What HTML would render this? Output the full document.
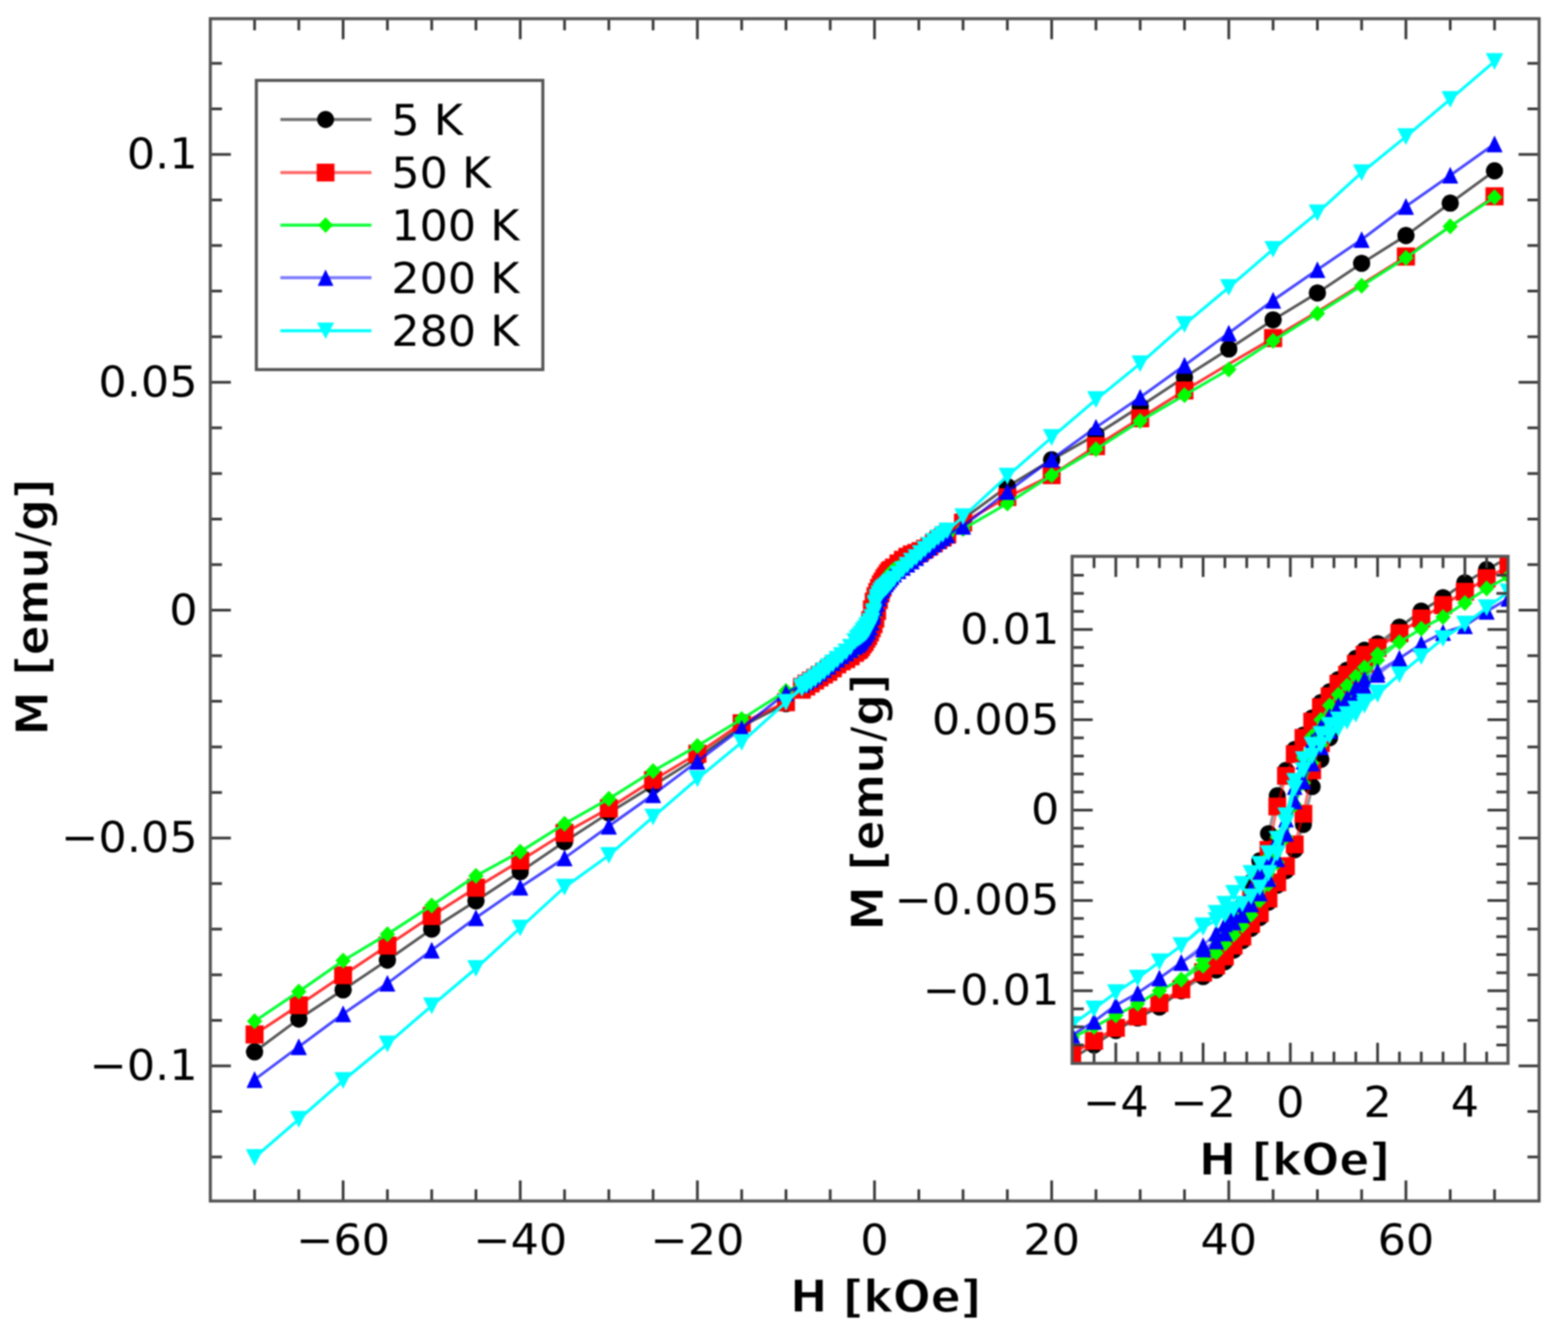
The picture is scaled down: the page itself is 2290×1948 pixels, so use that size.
<!DOCTYPE html>
<html><head><meta charset="utf-8"><title>M-H loops</title>
<style>html,body{margin:0;padding:0;background:#fff;}svg{display:block;filter:blur(0.8px);}</style>
</head><body>
<svg xmlns="http://www.w3.org/2000/svg" width="2290" height="1948" viewBox="0 0 2290 1948" font-family="'DejaVu Sans', 'Liberation Sans', sans-serif" font-size="65" fill="#000">
<defs><circle id="mo" r="12.4"/><rect id="ms" x="-13" y="-13" width="26" height="26"/><path id="mD" d="M0,-11.5 L11,0 L0,11.5 L-11,0 Z"/><path id="m^" d="M0,-12 L11.5,12 L-11.5,12 Z"/><path id="mv" d="M0,12 L12.5,-12 L-12.5,-12 Z"/>
<clipPath id="cm"><rect x="307.2" y="27.3" width="1940.6" height="1726.5"/></clipPath>
<clipPath id="ci"><rect x="1565.8" y="812.4" width="636.6" height="740.4"/></clipPath>
</defs>
<rect width="2290" height="1948" fill="#fff"/>
<g clip-path="url(#cm)">
<polyline points="2182.7,249.5 2118,296.7 2053.3,344 1988.6,384.6 1924,427.8 1859.3,467.1 1794.6,509.7 1729.9,550.9 1665.2,593.5 1600.6,634.8 1535.9,671.4 1471.2,710.6 1406.5,757.9 1383.3,779.2 1376.8,783.6 1370.3,787.5 1363.9,791.8 1357.4,796.1 1350.9,800.3 1344.5,804.3 1338,807.9 1331.5,811.1 1325.1,814.7 1318.6,818.8 1312.1,823.2 1305.7,827.9 1301.8,830.4 1299.2,832.1 1296.6,835.1 1294,839.4 1291.4,842.9 1288.8,847.4 1286.3,851.4 1283.7,857.1 1281.1,863.3 1278.5,868.6 1275.9,876.4 1273.3,885.7 1270.7,899.7 1268.1,909.6 1265.6,917.6 1263,926.3 1260.4,933.6 1257.8,939.6 1255.2,944.2 1252.6,949 1248.7,953.9 1242.3,959.6 1235.8,963.6 1229.3,966.4 1222.9,969.7 1216.4,974.2 1209.9,978.5 1203.5,982.4 1197,986.5 1190.5,990.9 1184.1,995.2 1177.6,999.4 1171.1,1004.1 1147.9,1027.4 1083.2,1060.7 1018.5,1106.6 953.8,1147.2 889.2,1187.1 824.5,1229.1 759.8,1273 695.1,1315.6 630.5,1356.8 565.8,1402.1 501.1,1445.4 436.4,1488 371.8,1535.9" fill="none" stroke="#000000" stroke-opacity="0.42" stroke-width="4.0" stroke-linejoin="round"/>
<g fill="#000000"><use href="#mo" x="2182.7" y="249.5"/><use href="#mo" x="2118" y="296.7"/><use href="#mo" x="2053.3" y="344"/><use href="#mo" x="1988.6" y="384.6"/><use href="#mo" x="1924" y="427.8"/><use href="#mo" x="1859.3" y="467.1"/><use href="#mo" x="1794.6" y="509.7"/><use href="#mo" x="1729.9" y="550.9"/><use href="#mo" x="1665.2" y="593.5"/><use href="#mo" x="1600.6" y="634.8"/><use href="#mo" x="1535.9" y="671.4"/><use href="#mo" x="1471.2" y="710.6"/><use href="#mo" x="1406.5" y="757.9"/><use href="#mo" x="1383.3" y="779.2"/><use href="#mo" x="1376.8" y="783.6"/><use href="#mo" x="1370.3" y="787.5"/><use href="#mo" x="1363.9" y="791.8"/><use href="#mo" x="1357.4" y="796.1"/><use href="#mo" x="1350.9" y="800.3"/><use href="#mo" x="1344.5" y="804.3"/><use href="#mo" x="1338" y="807.9"/><use href="#mo" x="1331.5" y="811.1"/><use href="#mo" x="1325.1" y="814.7"/><use href="#mo" x="1318.6" y="818.8"/><use href="#mo" x="1312.1" y="823.2"/><use href="#mo" x="1305.7" y="827.9"/><use href="#mo" x="1301.8" y="830.4"/><use href="#mo" x="1299.2" y="832.1"/><use href="#mo" x="1296.6" y="835.1"/><use href="#mo" x="1294" y="839.4"/><use href="#mo" x="1291.4" y="842.9"/><use href="#mo" x="1288.8" y="847.4"/><use href="#mo" x="1286.3" y="851.4"/><use href="#mo" x="1283.7" y="857.1"/><use href="#mo" x="1281.1" y="863.3"/><use href="#mo" x="1278.5" y="868.6"/><use href="#mo" x="1275.9" y="876.4"/><use href="#mo" x="1273.3" y="885.7"/><use href="#mo" x="1270.7" y="899.7"/><use href="#mo" x="1268.1" y="909.6"/><use href="#mo" x="1265.6" y="917.6"/><use href="#mo" x="1263" y="926.3"/><use href="#mo" x="1260.4" y="933.6"/><use href="#mo" x="1257.8" y="939.6"/><use href="#mo" x="1255.2" y="944.2"/><use href="#mo" x="1252.6" y="949"/><use href="#mo" x="1248.7" y="953.9"/><use href="#mo" x="1242.3" y="959.6"/><use href="#mo" x="1235.8" y="963.6"/><use href="#mo" x="1229.3" y="966.4"/><use href="#mo" x="1222.9" y="969.7"/><use href="#mo" x="1216.4" y="974.2"/><use href="#mo" x="1209.9" y="978.5"/><use href="#mo" x="1203.5" y="982.4"/><use href="#mo" x="1197" y="986.5"/><use href="#mo" x="1190.5" y="990.9"/><use href="#mo" x="1184.1" y="995.2"/><use href="#mo" x="1177.6" y="999.4"/><use href="#mo" x="1171.1" y="1004.1"/><use href="#mo" x="1147.9" y="1027.4"/><use href="#mo" x="1083.2" y="1060.7"/><use href="#mo" x="1018.5" y="1106.6"/><use href="#mo" x="953.8" y="1147.2"/><use href="#mo" x="889.2" y="1187.1"/><use href="#mo" x="824.5" y="1229.1"/><use href="#mo" x="759.8" y="1273"/><use href="#mo" x="695.1" y="1315.6"/><use href="#mo" x="630.5" y="1356.8"/><use href="#mo" x="565.8" y="1402.1"/><use href="#mo" x="501.1" y="1445.4"/><use href="#mo" x="436.4" y="1488"/><use href="#mo" x="371.8" y="1535.9"/></g>
<polyline points="371.8,1535.9 436.4,1488 501.1,1445.4 565.8,1402.1 630.5,1356.8 695.1,1315.6 759.8,1273 824.5,1229.1 889.2,1187.1 953.8,1147.2 1018.5,1106.6 1083.2,1060.7 1147.9,1027.4 1171.1,1004.1 1177.6,999.4 1184.1,995.2 1190.5,990.9 1197,986.5 1203.5,982.4 1209.9,978.5 1216.4,974.2 1222.9,969.7 1229.3,966.3 1235.8,963.6 1242.3,959.5 1248.7,954.3 1252.6,951.6 1255.2,949.9 1257.8,946.9 1260.4,942.6 1263,939.1 1265.6,934.6 1268.1,930.6 1270.7,924.9 1273.3,918.7 1275.9,913.4 1278.5,905.6 1281.1,896.3 1283.7,882.3 1286.3,872.4 1288.8,864.4 1291.4,855.7 1294,848.4 1296.6,842.4 1299.2,837.8 1301.8,833 1305.7,828.3 1312.1,823.1 1318.6,818.7 1325.1,814.7 1331.5,811.1 1338,807.9 1344.5,804.3 1350.9,800.3 1357.4,796.1 1363.9,791.8 1370.3,787.5 1376.8,783.6 1383.3,779.2 1406.5,757.9 1471.2,710.6 1535.9,671.4 1600.6,634.8 1665.2,593.5 1729.9,550.9 1794.6,509.7 1859.3,467.1 1924,427.8 1988.6,384.6 2053.3,344 2118,296.7 2182.7,249.5" fill="none" stroke="#000000" stroke-opacity="0.42" stroke-width="4.0" stroke-linejoin="round"/>
<g fill="#000000"><use href="#mo" x="371.8" y="1535.9"/><use href="#mo" x="436.4" y="1488"/><use href="#mo" x="501.1" y="1445.4"/><use href="#mo" x="565.8" y="1402.1"/><use href="#mo" x="630.5" y="1356.8"/><use href="#mo" x="695.1" y="1315.6"/><use href="#mo" x="759.8" y="1273"/><use href="#mo" x="824.5" y="1229.1"/><use href="#mo" x="889.2" y="1187.1"/><use href="#mo" x="953.8" y="1147.2"/><use href="#mo" x="1018.5" y="1106.6"/><use href="#mo" x="1083.2" y="1060.7"/><use href="#mo" x="1147.9" y="1027.4"/><use href="#mo" x="1171.1" y="1004.1"/><use href="#mo" x="1177.6" y="999.4"/><use href="#mo" x="1184.1" y="995.2"/><use href="#mo" x="1190.5" y="990.9"/><use href="#mo" x="1197" y="986.5"/><use href="#mo" x="1203.5" y="982.4"/><use href="#mo" x="1209.9" y="978.5"/><use href="#mo" x="1216.4" y="974.2"/><use href="#mo" x="1222.9" y="969.7"/><use href="#mo" x="1229.3" y="966.3"/><use href="#mo" x="1235.8" y="963.6"/><use href="#mo" x="1242.3" y="959.5"/><use href="#mo" x="1248.7" y="954.3"/><use href="#mo" x="1252.6" y="951.6"/><use href="#mo" x="1255.2" y="949.9"/><use href="#mo" x="1257.8" y="946.9"/><use href="#mo" x="1260.4" y="942.6"/><use href="#mo" x="1263" y="939.1"/><use href="#mo" x="1265.6" y="934.6"/><use href="#mo" x="1268.1" y="930.6"/><use href="#mo" x="1270.7" y="924.9"/><use href="#mo" x="1273.3" y="918.7"/><use href="#mo" x="1275.9" y="913.4"/><use href="#mo" x="1278.5" y="905.6"/><use href="#mo" x="1281.1" y="896.3"/><use href="#mo" x="1283.7" y="882.3"/><use href="#mo" x="1286.3" y="872.4"/><use href="#mo" x="1288.8" y="864.4"/><use href="#mo" x="1291.4" y="855.7"/><use href="#mo" x="1294" y="848.4"/><use href="#mo" x="1296.6" y="842.4"/><use href="#mo" x="1299.2" y="837.8"/><use href="#mo" x="1301.8" y="833"/><use href="#mo" x="1305.7" y="828.3"/><use href="#mo" x="1312.1" y="823.1"/><use href="#mo" x="1318.6" y="818.7"/><use href="#mo" x="1325.1" y="814.7"/><use href="#mo" x="1331.5" y="811.1"/><use href="#mo" x="1338" y="807.9"/><use href="#mo" x="1344.5" y="804.3"/><use href="#mo" x="1350.9" y="800.3"/><use href="#mo" x="1357.4" y="796.1"/><use href="#mo" x="1363.9" y="791.8"/><use href="#mo" x="1370.3" y="787.5"/><use href="#mo" x="1376.8" y="783.6"/><use href="#mo" x="1383.3" y="779.2"/><use href="#mo" x="1406.5" y="757.9"/><use href="#mo" x="1471.2" y="710.6"/><use href="#mo" x="1535.9" y="671.4"/><use href="#mo" x="1600.6" y="634.8"/><use href="#mo" x="1665.2" y="593.5"/><use href="#mo" x="1729.9" y="550.9"/><use href="#mo" x="1794.6" y="509.7"/><use href="#mo" x="1859.3" y="467.1"/><use href="#mo" x="1924" y="427.8"/><use href="#mo" x="1988.6" y="384.6"/><use href="#mo" x="2053.3" y="344"/><use href="#mo" x="2118" y="296.7"/><use href="#mo" x="2182.7" y="249.5"/></g>
<polyline points="2182.7,286.7 2118,330.6 2053.3,374.6 1988.6,415.2 1924,455.1 1859.3,493.7 1794.6,531.6 1729.9,570.2 1665.2,610.8 1600.6,651.4 1535.9,694 1471.2,726 1406.5,763.2 1383.3,780.5 1376.8,784.8 1370.3,788.8 1363.9,793.1 1357.4,797.5 1350.9,801.3 1344.5,804.6 1338,807.3 1331.5,809.5 1325.1,812.9 1318.6,817.3 1312.1,822.7 1305.7,828.9 1301.8,832.1 1299.2,833.8 1296.6,837.1 1294,841.1 1291.4,844.4 1288.8,849.1 1286.3,853.1 1283.7,858.4 1281.1,864.4 1278.5,870.4 1275.9,878.4 1273.3,889.7 1270.7,905.6 1268.1,915.6 1265.6,923.6 1263,930.3 1260.4,936.3 1257.8,940.9 1255.2,944.9 1252.6,949.2 1248.7,953.5 1242.3,958.5 1235.8,962.2 1229.3,965 1222.9,968.4 1216.4,972.9 1209.9,977.1 1203.5,981.1 1197,985.2 1190.5,989.5 1184.1,993.9 1177.6,998.1 1171.1,1002.8 1147.9,1025.4 1083.2,1056 1018.5,1100.6 953.8,1139.2 889.2,1180.5 824.5,1216.4 759.8,1257 695.1,1296.3 630.5,1337.6 565.8,1380.8 501.1,1424.1 436.4,1468 371.8,1510.6" fill="none" stroke="#ff0000" stroke-opacity="0.55" stroke-width="4.0" stroke-linejoin="round"/>
<g fill="#ff0000"><use href="#ms" x="2182.7" y="286.7"/><use href="#ms" x="2053.3" y="374.6"/><use href="#ms" x="1859.3" y="493.7"/><use href="#ms" x="1729.9" y="570.2"/><use href="#ms" x="1665.2" y="610.8"/><use href="#ms" x="1600.6" y="651.4"/><use href="#ms" x="1535.9" y="694"/><use href="#ms" x="1471.2" y="726"/><use href="#ms" x="1406.5" y="763.2"/><use href="#ms" x="1383.3" y="780.5"/><use href="#ms" x="1376.8" y="784.8"/><use href="#ms" x="1370.3" y="788.8"/><use href="#ms" x="1363.9" y="793.1"/><use href="#ms" x="1357.4" y="797.5"/><use href="#ms" x="1350.9" y="801.3"/><use href="#ms" x="1344.5" y="804.6"/><use href="#ms" x="1338" y="807.3"/><use href="#ms" x="1331.5" y="809.5"/><use href="#ms" x="1325.1" y="812.9"/><use href="#ms" x="1318.6" y="817.3"/><use href="#ms" x="1312.1" y="822.7"/><use href="#ms" x="1305.7" y="828.9"/><use href="#ms" x="1301.8" y="832.1"/><use href="#ms" x="1299.2" y="833.8"/><use href="#ms" x="1296.6" y="837.1"/><use href="#ms" x="1294" y="841.1"/><use href="#ms" x="1291.4" y="844.4"/><use href="#ms" x="1288.8" y="849.1"/><use href="#ms" x="1286.3" y="853.1"/><use href="#ms" x="1283.7" y="858.4"/><use href="#ms" x="1281.1" y="864.4"/><use href="#ms" x="1278.5" y="870.4"/><use href="#ms" x="1275.9" y="878.4"/><use href="#ms" x="1273.3" y="889.7"/><use href="#ms" x="1270.7" y="905.6"/><use href="#ms" x="1268.1" y="915.6"/><use href="#ms" x="1265.6" y="923.6"/><use href="#ms" x="1263" y="930.3"/><use href="#ms" x="1260.4" y="936.3"/><use href="#ms" x="1257.8" y="940.9"/><use href="#ms" x="1255.2" y="944.9"/><use href="#ms" x="1252.6" y="949.2"/><use href="#ms" x="1248.7" y="953.5"/><use href="#ms" x="1242.3" y="958.5"/><use href="#ms" x="1235.8" y="962.2"/><use href="#ms" x="1229.3" y="965"/><use href="#ms" x="1222.9" y="968.4"/><use href="#ms" x="1216.4" y="972.9"/><use href="#ms" x="1209.9" y="977.1"/><use href="#ms" x="1203.5" y="981.1"/><use href="#ms" x="1197" y="985.2"/><use href="#ms" x="1190.5" y="989.5"/><use href="#ms" x="1184.1" y="993.9"/><use href="#ms" x="1177.6" y="998.1"/><use href="#ms" x="1171.1" y="1002.8"/><use href="#ms" x="1147.9" y="1025.4"/><use href="#ms" x="1083.2" y="1056"/><use href="#ms" x="1018.5" y="1100.6"/><use href="#ms" x="953.8" y="1139.2"/><use href="#ms" x="889.2" y="1180.5"/><use href="#ms" x="824.5" y="1216.4"/><use href="#ms" x="759.8" y="1257"/><use href="#ms" x="695.1" y="1296.3"/><use href="#ms" x="630.5" y="1337.6"/><use href="#ms" x="565.8" y="1380.8"/><use href="#ms" x="501.1" y="1424.1"/><use href="#ms" x="436.4" y="1468"/><use href="#ms" x="371.8" y="1510.6"/></g>
<polyline points="371.8,1510.6 436.4,1468 501.1,1424.1 565.8,1380.8 630.5,1337.6 695.1,1296.3 759.8,1257 824.5,1216.4 889.2,1180.5 953.8,1139.2 1018.5,1100.6 1083.2,1056 1147.9,1025.4 1171.1,1007.3 1177.6,1002.6 1184.1,998.2 1190.5,993.8 1197,989.4 1203.5,985.2 1209.9,981.2 1216.4,976.1 1222.9,970.3 1229.3,965.9 1235.8,962.5 1242.3,958.1 1248.7,952.7 1252.6,949.9 1255.2,948.2 1257.8,944.9 1260.4,940.9 1263,937.6 1265.6,932.9 1268.1,928.9 1270.7,923.6 1273.3,917.6 1275.9,911.6 1278.5,903.6 1281.1,892.3 1283.7,876.4 1286.3,866.4 1288.8,858.4 1291.4,851.7 1294,845.7 1296.6,841.1 1299.2,837.1 1301.8,832.8 1305.7,828.7 1312.1,824.2 1318.6,820.1 1325.1,816.1 1331.5,812.4 1338,809.2 1344.5,805.7 1350.9,801.6 1357.4,797.5 1363.9,793.1 1370.3,788.8 1376.8,784.8 1383.3,780.5 1406.5,763.2 1471.2,726 1535.9,694 1600.6,651.4 1665.2,610.8 1729.9,570.2 1794.6,531.6 1859.3,493.7 1924,455.1 1988.6,415.2 2053.3,374.6 2118,330.6 2182.7,286.7" fill="none" stroke="#ff0000" stroke-opacity="0.55" stroke-width="4.0" stroke-linejoin="round"/>
<g fill="#ff0000"><use href="#ms" x="371.8" y="1510.6"/><use href="#ms" x="436.4" y="1468"/><use href="#ms" x="501.1" y="1424.1"/><use href="#ms" x="565.8" y="1380.8"/><use href="#ms" x="630.5" y="1337.6"/><use href="#ms" x="695.1" y="1296.3"/><use href="#ms" x="759.8" y="1257"/><use href="#ms" x="824.5" y="1216.4"/><use href="#ms" x="889.2" y="1180.5"/><use href="#ms" x="953.8" y="1139.2"/><use href="#ms" x="1018.5" y="1100.6"/><use href="#ms" x="1083.2" y="1056"/><use href="#ms" x="1147.9" y="1025.4"/><use href="#ms" x="1171.1" y="1007.3"/><use href="#ms" x="1177.6" y="1002.6"/><use href="#ms" x="1184.1" y="998.2"/><use href="#ms" x="1190.5" y="993.8"/><use href="#ms" x="1197" y="989.4"/><use href="#ms" x="1203.5" y="985.2"/><use href="#ms" x="1209.9" y="981.2"/><use href="#ms" x="1216.4" y="976.1"/><use href="#ms" x="1222.9" y="970.3"/><use href="#ms" x="1229.3" y="965.9"/><use href="#ms" x="1235.8" y="962.5"/><use href="#ms" x="1242.3" y="958.1"/><use href="#ms" x="1248.7" y="952.7"/><use href="#ms" x="1252.6" y="949.9"/><use href="#ms" x="1255.2" y="948.2"/><use href="#ms" x="1257.8" y="944.9"/><use href="#ms" x="1260.4" y="940.9"/><use href="#ms" x="1263" y="937.6"/><use href="#ms" x="1265.6" y="932.9"/><use href="#ms" x="1268.1" y="928.9"/><use href="#ms" x="1270.7" y="923.6"/><use href="#ms" x="1273.3" y="917.6"/><use href="#ms" x="1275.9" y="911.6"/><use href="#ms" x="1278.5" y="903.6"/><use href="#ms" x="1281.1" y="892.3"/><use href="#ms" x="1283.7" y="876.4"/><use href="#ms" x="1286.3" y="866.4"/><use href="#ms" x="1288.8" y="858.4"/><use href="#ms" x="1291.4" y="851.7"/><use href="#ms" x="1294" y="845.7"/><use href="#ms" x="1296.6" y="841.1"/><use href="#ms" x="1299.2" y="837.1"/><use href="#ms" x="1301.8" y="832.8"/><use href="#ms" x="1305.7" y="828.7"/><use href="#ms" x="1312.1" y="824.2"/><use href="#ms" x="1318.6" y="820.1"/><use href="#ms" x="1325.1" y="816.1"/><use href="#ms" x="1331.5" y="812.4"/><use href="#ms" x="1338" y="809.2"/><use href="#ms" x="1344.5" y="805.7"/><use href="#ms" x="1350.9" y="801.6"/><use href="#ms" x="1357.4" y="797.5"/><use href="#ms" x="1363.9" y="793.1"/><use href="#ms" x="1370.3" y="788.8"/><use href="#ms" x="1376.8" y="784.8"/><use href="#ms" x="1383.3" y="780.5"/><use href="#ms" x="1406.5" y="763.2"/><use href="#ms" x="1471.2" y="726"/><use href="#ms" x="1535.9" y="694"/><use href="#ms" x="1600.6" y="651.4"/><use href="#ms" x="1665.2" y="610.8"/><use href="#ms" x="1729.9" y="570.2"/><use href="#ms" x="1859.3" y="493.7"/><use href="#ms" x="2053.3" y="374.6"/><use href="#ms" x="2182.7" y="286.7"/></g>
<polyline points="2182.7,288.1 2118,330.6 2053.3,376.6 1988.6,417.2 1924,457.8 1859.3,497.7 1794.6,539.6 1729.9,576.9 1665.2,614.8 1600.6,656.1 1535.9,694 1471.2,735.3 1406.5,772.5 1383.3,781.2 1376.8,785.4 1370.3,790.5 1363.9,795.5 1357.4,800.6 1350.9,805.2 1344.5,809.5 1338,813.6 1331.5,817.6 1325.1,821.4 1318.6,825 1312.1,828.4 1305.7,831.8 1301.8,835 1299.2,838.4 1296.6,841.8 1294,845.1 1291.4,848.4 1288.8,852.4 1286.3,857.7 1283.7,863.7 1281.1,871.7 1278.5,881 1275.9,893 1273.3,901 1270.7,908.3 1268.1,915 1265.6,921.6 1263,926.9 1260.4,930.9 1257.8,934.9 1255.2,938.9 1252.6,944.2 1248.7,948.8 1242.3,953.3 1235.8,957.1 1229.3,960.7 1222.9,964.4 1216.4,968.4 1209.9,972.5 1203.5,976.8 1197,981.4 1190.5,986.5 1184.1,991.4 1177.6,996.2 1171.1,1000.1 1147.9,1009.1 1083.2,1050.1 1018.5,1089.3 953.8,1125.9 889.2,1166.5 824.5,1203.1 759.8,1243.7 695.1,1279 630.5,1322.2 565.8,1364.2 501.1,1402.8 436.4,1448 371.8,1491.3" fill="none" stroke="#00ff30" stroke-opacity="0.85" stroke-width="4.0" stroke-linejoin="round"/>
<g fill="#00ff00"><use href="#mD" x="2182.7" y="288.1"/><use href="#mD" x="2118" y="330.6"/><use href="#mD" x="2053.3" y="376.6"/><use href="#mD" x="1988.6" y="417.2"/><use href="#mD" x="1924" y="457.8"/><use href="#mD" x="1859.3" y="497.7"/><use href="#mD" x="1794.6" y="539.6"/><use href="#mD" x="1729.9" y="576.9"/><use href="#mD" x="1665.2" y="614.8"/><use href="#mD" x="1600.6" y="656.1"/><use href="#mD" x="1535.9" y="694"/><use href="#mD" x="1471.2" y="735.3"/><use href="#mD" x="1406.5" y="772.5"/><use href="#mD" x="1383.3" y="781.2"/><use href="#mD" x="1376.8" y="785.4"/><use href="#mD" x="1370.3" y="790.5"/><use href="#mD" x="1363.9" y="795.5"/><use href="#mD" x="1357.4" y="800.6"/><use href="#mD" x="1350.9" y="805.2"/><use href="#mD" x="1344.5" y="809.5"/><use href="#mD" x="1338" y="813.6"/><use href="#mD" x="1331.5" y="817.6"/><use href="#mD" x="1325.1" y="821.4"/><use href="#mD" x="1318.6" y="825"/><use href="#mD" x="1312.1" y="828.4"/><use href="#mD" x="1305.7" y="831.8"/><use href="#mD" x="1301.8" y="835"/><use href="#mD" x="1299.2" y="838.4"/><use href="#mD" x="1296.6" y="841.8"/><use href="#mD" x="1294" y="845.1"/><use href="#mD" x="1291.4" y="848.4"/><use href="#mD" x="1288.8" y="852.4"/><use href="#mD" x="1286.3" y="857.7"/><use href="#mD" x="1283.7" y="863.7"/><use href="#mD" x="1281.1" y="871.7"/><use href="#mD" x="1278.5" y="881"/><use href="#mD" x="1275.9" y="893"/><use href="#mD" x="1273.3" y="901"/><use href="#mD" x="1270.7" y="908.3"/><use href="#mD" x="1268.1" y="915"/><use href="#mD" x="1265.6" y="921.6"/><use href="#mD" x="1263" y="926.9"/><use href="#mD" x="1260.4" y="930.9"/><use href="#mD" x="1257.8" y="934.9"/><use href="#mD" x="1255.2" y="938.9"/><use href="#mD" x="1252.6" y="944.2"/><use href="#mD" x="1248.7" y="948.8"/><use href="#mD" x="1242.3" y="953.3"/><use href="#mD" x="1235.8" y="957.1"/><use href="#mD" x="1229.3" y="960.7"/><use href="#mD" x="1222.9" y="964.4"/><use href="#mD" x="1216.4" y="968.4"/><use href="#mD" x="1209.9" y="972.5"/><use href="#mD" x="1203.5" y="976.8"/><use href="#mD" x="1197" y="981.4"/><use href="#mD" x="1190.5" y="986.5"/><use href="#mD" x="1184.1" y="991.4"/><use href="#mD" x="1177.6" y="996.2"/><use href="#mD" x="1171.1" y="1000.1"/><use href="#mD" x="1147.9" y="1009.1"/><use href="#mD" x="1083.2" y="1050.1"/><use href="#mD" x="1018.5" y="1089.3"/><use href="#mD" x="953.8" y="1125.9"/><use href="#mD" x="889.2" y="1166.5"/><use href="#mD" x="824.5" y="1203.1"/><use href="#mD" x="759.8" y="1243.7"/><use href="#mD" x="695.1" y="1279"/><use href="#mD" x="630.5" y="1322.2"/><use href="#mD" x="565.8" y="1364.2"/><use href="#mD" x="501.1" y="1402.8"/><use href="#mD" x="436.4" y="1448"/><use href="#mD" x="371.8" y="1491.3"/></g>
<polyline points="371.8,1491.3 436.4,1448 501.1,1402.8 565.8,1364.2 630.5,1322.2 695.1,1279 759.8,1243.7 824.5,1203.1 889.2,1166.5 953.8,1125.9 1018.5,1089.3 1083.2,1050.1 1147.9,1009.1 1171.1,1000.1 1177.6,996.2 1184.1,991.4 1190.5,986.5 1197,981.4 1203.5,976.8 1209.9,972.5 1216.4,968.4 1222.9,964.4 1229.3,960.6 1235.8,957 1242.3,953.6 1248.7,950.2 1252.6,947 1255.2,943.6 1257.8,940.2 1260.4,936.9 1263,933.6 1265.6,929.6 1268.1,924.3 1270.7,918.3 1273.3,910.3 1275.9,901 1278.5,889 1281.1,881 1283.7,873.7 1286.3,867 1288.8,860.4 1291.4,855.1 1294,851.1 1296.6,847.1 1299.2,843.1 1301.8,837.8 1305.7,833.2 1312.1,828.7 1318.6,824.9 1325.1,821.3 1331.5,817.6 1338,813.6 1344.5,809.5 1350.9,805.2 1357.4,800.6 1363.9,795.5 1370.3,790.5 1376.8,785.4 1383.3,781.2 1406.5,772.5 1471.2,735.3 1535.9,694 1600.6,656.1 1665.2,614.8 1729.9,576.9 1794.6,539.6 1859.3,497.7 1924,457.8 1988.6,417.2 2053.3,376.6 2118,330.6 2182.7,288.1" fill="none" stroke="#00ff30" stroke-opacity="0.85" stroke-width="4.0" stroke-linejoin="round"/>
<g fill="#00ff00"><use href="#mD" x="371.8" y="1491.3"/><use href="#mD" x="436.4" y="1448"/><use href="#mD" x="501.1" y="1402.8"/><use href="#mD" x="565.8" y="1364.2"/><use href="#mD" x="630.5" y="1322.2"/><use href="#mD" x="695.1" y="1279"/><use href="#mD" x="759.8" y="1243.7"/><use href="#mD" x="824.5" y="1203.1"/><use href="#mD" x="889.2" y="1166.5"/><use href="#mD" x="953.8" y="1125.9"/><use href="#mD" x="1018.5" y="1089.3"/><use href="#mD" x="1083.2" y="1050.1"/><use href="#mD" x="1147.9" y="1009.1"/><use href="#mD" x="1171.1" y="1000.1"/><use href="#mD" x="1177.6" y="996.2"/><use href="#mD" x="1184.1" y="991.4"/><use href="#mD" x="1190.5" y="986.5"/><use href="#mD" x="1197" y="981.4"/><use href="#mD" x="1203.5" y="976.8"/><use href="#mD" x="1209.9" y="972.5"/><use href="#mD" x="1216.4" y="968.4"/><use href="#mD" x="1222.9" y="964.4"/><use href="#mD" x="1229.3" y="960.6"/><use href="#mD" x="1235.8" y="957"/><use href="#mD" x="1242.3" y="953.6"/><use href="#mD" x="1248.7" y="950.2"/><use href="#mD" x="1252.6" y="947"/><use href="#mD" x="1255.2" y="943.6"/><use href="#mD" x="1257.8" y="940.2"/><use href="#mD" x="1260.4" y="936.9"/><use href="#mD" x="1263" y="933.6"/><use href="#mD" x="1265.6" y="929.6"/><use href="#mD" x="1268.1" y="924.3"/><use href="#mD" x="1270.7" y="918.3"/><use href="#mD" x="1273.3" y="910.3"/><use href="#mD" x="1275.9" y="901"/><use href="#mD" x="1278.5" y="889"/><use href="#mD" x="1281.1" y="881"/><use href="#mD" x="1283.7" y="873.7"/><use href="#mD" x="1286.3" y="867"/><use href="#mD" x="1288.8" y="860.4"/><use href="#mD" x="1291.4" y="855.1"/><use href="#mD" x="1294" y="851.1"/><use href="#mD" x="1296.6" y="847.1"/><use href="#mD" x="1299.2" y="843.1"/><use href="#mD" x="1301.8" y="837.8"/><use href="#mD" x="1305.7" y="833.2"/><use href="#mD" x="1312.1" y="828.7"/><use href="#mD" x="1318.6" y="824.9"/><use href="#mD" x="1325.1" y="821.3"/><use href="#mD" x="1331.5" y="817.6"/><use href="#mD" x="1338" y="813.6"/><use href="#mD" x="1344.5" y="809.5"/><use href="#mD" x="1350.9" y="805.2"/><use href="#mD" x="1357.4" y="800.6"/><use href="#mD" x="1363.9" y="795.5"/><use href="#mD" x="1370.3" y="790.5"/><use href="#mD" x="1376.8" y="785.4"/><use href="#mD" x="1383.3" y="781.2"/><use href="#mD" x="1406.5" y="772.5"/><use href="#mD" x="1471.2" y="735.3"/><use href="#mD" x="1535.9" y="694"/><use href="#mD" x="1600.6" y="656.1"/><use href="#mD" x="1665.2" y="614.8"/><use href="#mD" x="1729.9" y="576.9"/><use href="#mD" x="1794.6" y="539.6"/><use href="#mD" x="1859.3" y="497.7"/><use href="#mD" x="1924" y="457.8"/><use href="#mD" x="1988.6" y="417.2"/><use href="#mD" x="2053.3" y="376.6"/><use href="#mD" x="2118" y="330.6"/><use href="#mD" x="2182.7" y="288.1"/></g>
<polyline points="2182.7,210.2 2118,256.1 2053.3,301.4 1988.6,349.9 1924,393.9 1859.3,438.5 1794.6,486.4 1729.9,533.6 1665.2,580.2 1600.6,624.1 1535.9,670.7 1471.2,718 1406.5,768.5 1383.3,781.2 1376.8,785.4 1370.3,790 1363.9,794.6 1357.4,799.2 1350.9,804.1 1344.5,809.1 1338,814.2 1331.5,819.2 1325.1,824 1318.6,828.6 1312.1,833.2 1305.7,837.8 1301.8,840.7 1299.2,842.8 1296.6,845.7 1294,849.7 1291.4,852.4 1288.8,856.4 1286.3,860.4 1283.7,865.7 1281.1,873 1278.5,882.3 1275.9,894.3 1273.3,901.6 1270.7,908.3 1268.1,914.3 1265.6,920.3 1263,925.6 1260.4,929.6 1257.8,932.9 1255.2,936.3 1252.6,939.5 1248.7,943.4 1242.3,948.6 1235.8,953.5 1229.3,958.1 1222.9,962.8 1216.4,967.8 1209.9,972.9 1203.5,977.9 1197,982.8 1190.5,987.5 1184.1,991.8 1177.6,995.7 1171.1,999.5 1147.9,1012.1 1083.2,1063.4 1018.5,1111.9 953.8,1160.5 889.2,1206.4 824.5,1253 759.8,1295.6 695.1,1340.2 630.5,1387.5 565.8,1436 501.1,1480.6 436.4,1528.5 371.8,1576.5" fill="none" stroke="#0000ff" stroke-opacity="0.48" stroke-width="4.0" stroke-linejoin="round"/>
<g fill="#0000ff"><use href="#m^" x="2182.7" y="210.2"/><use href="#m^" x="2118" y="256.1"/><use href="#m^" x="2053.3" y="301.4"/><use href="#m^" x="1988.6" y="349.9"/><use href="#m^" x="1924" y="393.9"/><use href="#m^" x="1859.3" y="438.5"/><use href="#m^" x="1794.6" y="486.4"/><use href="#m^" x="1729.9" y="533.6"/><use href="#m^" x="1665.2" y="580.2"/><use href="#m^" x="1600.6" y="624.1"/><use href="#m^" x="1535.9" y="670.7"/><use href="#m^" x="1471.2" y="718"/><use href="#m^" x="1406.5" y="768.5"/><use href="#m^" x="1383.3" y="781.2"/><use href="#m^" x="1376.8" y="785.4"/><use href="#m^" x="1370.3" y="790"/><use href="#m^" x="1363.9" y="794.6"/><use href="#m^" x="1357.4" y="799.2"/><use href="#m^" x="1350.9" y="804.1"/><use href="#m^" x="1344.5" y="809.1"/><use href="#m^" x="1338" y="814.2"/><use href="#m^" x="1331.5" y="819.2"/><use href="#m^" x="1325.1" y="824"/><use href="#m^" x="1318.6" y="828.6"/><use href="#m^" x="1312.1" y="833.2"/><use href="#m^" x="1305.7" y="837.8"/><use href="#m^" x="1301.8" y="840.7"/><use href="#m^" x="1299.2" y="842.8"/><use href="#m^" x="1296.6" y="845.7"/><use href="#m^" x="1294" y="849.7"/><use href="#m^" x="1291.4" y="852.4"/><use href="#m^" x="1288.8" y="856.4"/><use href="#m^" x="1286.3" y="860.4"/><use href="#m^" x="1283.7" y="865.7"/><use href="#m^" x="1281.1" y="873"/><use href="#m^" x="1278.5" y="882.3"/><use href="#m^" x="1275.9" y="894.3"/><use href="#m^" x="1273.3" y="901.6"/><use href="#m^" x="1270.7" y="908.3"/><use href="#m^" x="1268.1" y="914.3"/><use href="#m^" x="1265.6" y="920.3"/><use href="#m^" x="1263" y="925.6"/><use href="#m^" x="1260.4" y="929.6"/><use href="#m^" x="1257.8" y="932.9"/><use href="#m^" x="1255.2" y="936.3"/><use href="#m^" x="1252.6" y="939.5"/><use href="#m^" x="1248.7" y="943.4"/><use href="#m^" x="1242.3" y="948.6"/><use href="#m^" x="1235.8" y="953.5"/><use href="#m^" x="1229.3" y="958.1"/><use href="#m^" x="1222.9" y="962.8"/><use href="#m^" x="1216.4" y="967.8"/><use href="#m^" x="1209.9" y="972.9"/><use href="#m^" x="1203.5" y="977.9"/><use href="#m^" x="1197" y="982.8"/><use href="#m^" x="1190.5" y="987.5"/><use href="#m^" x="1184.1" y="991.8"/><use href="#m^" x="1177.6" y="995.7"/><use href="#m^" x="1171.1" y="999.5"/><use href="#m^" x="1147.9" y="1012.1"/><use href="#m^" x="1083.2" y="1063.4"/><use href="#m^" x="1018.5" y="1111.9"/><use href="#m^" x="953.8" y="1160.5"/><use href="#m^" x="889.2" y="1206.4"/><use href="#m^" x="824.5" y="1253"/><use href="#m^" x="759.8" y="1295.6"/><use href="#m^" x="695.1" y="1340.2"/><use href="#m^" x="630.5" y="1387.5"/><use href="#m^" x="565.8" y="1436"/><use href="#m^" x="501.1" y="1480.6"/><use href="#m^" x="436.4" y="1528.5"/><use href="#m^" x="371.8" y="1576.5"/></g>
<polyline points="371.8,1576.5 436.4,1528.5 501.1,1480.6 565.8,1436 630.5,1387.5 695.1,1340.2 759.8,1295.6 824.5,1253 889.2,1206.4 953.8,1160.5 1018.5,1111.9 1083.2,1063.4 1147.9,1012.1 1171.1,999.5 1177.6,995.7 1184.1,991.8 1190.5,987.5 1197,982.8 1203.5,977.9 1209.9,972.9 1216.4,967.8 1222.9,962.8 1229.3,958 1235.8,953.4 1242.3,948.8 1248.7,944.2 1252.6,941.3 1255.2,939.2 1257.8,936.3 1260.4,932.3 1263,929.6 1265.6,925.6 1268.1,921.6 1270.7,916.3 1273.3,909 1275.9,899.7 1278.5,887.7 1281.1,880.4 1283.7,873.7 1286.3,867.7 1288.8,861.7 1291.4,856.4 1294,852.4 1296.6,849.1 1299.2,845.7 1301.8,842.5 1305.7,838.6 1312.1,833.4 1318.6,828.5 1325.1,823.9 1331.5,819.2 1338,814.2 1344.5,809.1 1350.9,804.1 1357.4,799.2 1363.9,794.6 1370.3,790 1376.8,785.4 1383.3,781.2 1406.5,768.5 1471.2,718 1535.9,670.7 1600.6,624.1 1665.2,580.2 1729.9,533.6 1794.6,486.4 1859.3,438.5 1924,393.9 1988.6,349.9 2053.3,301.4 2118,256.1 2182.7,210.2" fill="none" stroke="#0000ff" stroke-opacity="0.48" stroke-width="4.0" stroke-linejoin="round"/>
<g fill="#0000ff"><use href="#m^" x="371.8" y="1576.5"/><use href="#m^" x="436.4" y="1528.5"/><use href="#m^" x="501.1" y="1480.6"/><use href="#m^" x="565.8" y="1436"/><use href="#m^" x="630.5" y="1387.5"/><use href="#m^" x="695.1" y="1340.2"/><use href="#m^" x="759.8" y="1295.6"/><use href="#m^" x="824.5" y="1253"/><use href="#m^" x="889.2" y="1206.4"/><use href="#m^" x="953.8" y="1160.5"/><use href="#m^" x="1018.5" y="1111.9"/><use href="#m^" x="1083.2" y="1063.4"/><use href="#m^" x="1147.9" y="1012.1"/><use href="#m^" x="1171.1" y="999.5"/><use href="#m^" x="1177.6" y="995.7"/><use href="#m^" x="1184.1" y="991.8"/><use href="#m^" x="1190.5" y="987.5"/><use href="#m^" x="1197" y="982.8"/><use href="#m^" x="1203.5" y="977.9"/><use href="#m^" x="1209.9" y="972.9"/><use href="#m^" x="1216.4" y="967.8"/><use href="#m^" x="1222.9" y="962.8"/><use href="#m^" x="1229.3" y="958"/><use href="#m^" x="1235.8" y="953.4"/><use href="#m^" x="1242.3" y="948.8"/><use href="#m^" x="1248.7" y="944.2"/><use href="#m^" x="1252.6" y="941.3"/><use href="#m^" x="1255.2" y="939.2"/><use href="#m^" x="1257.8" y="936.3"/><use href="#m^" x="1260.4" y="932.3"/><use href="#m^" x="1263" y="929.6"/><use href="#m^" x="1265.6" y="925.6"/><use href="#m^" x="1268.1" y="921.6"/><use href="#m^" x="1270.7" y="916.3"/><use href="#m^" x="1273.3" y="909"/><use href="#m^" x="1275.9" y="899.7"/><use href="#m^" x="1278.5" y="887.7"/><use href="#m^" x="1281.1" y="880.4"/><use href="#m^" x="1283.7" y="873.7"/><use href="#m^" x="1286.3" y="867.7"/><use href="#m^" x="1288.8" y="861.7"/><use href="#m^" x="1291.4" y="856.4"/><use href="#m^" x="1294" y="852.4"/><use href="#m^" x="1296.6" y="849.1"/><use href="#m^" x="1299.2" y="845.7"/><use href="#m^" x="1301.8" y="842.5"/><use href="#m^" x="1305.7" y="838.6"/><use href="#m^" x="1312.1" y="833.4"/><use href="#m^" x="1318.6" y="828.5"/><use href="#m^" x="1325.1" y="823.9"/><use href="#m^" x="1331.5" y="819.2"/><use href="#m^" x="1338" y="814.2"/><use href="#m^" x="1344.5" y="809.1"/><use href="#m^" x="1350.9" y="804.1"/><use href="#m^" x="1357.4" y="799.2"/><use href="#m^" x="1363.9" y="794.6"/><use href="#m^" x="1370.3" y="790"/><use href="#m^" x="1376.8" y="785.4"/><use href="#m^" x="1383.3" y="781.2"/><use href="#m^" x="1406.5" y="768.5"/><use href="#m^" x="1471.2" y="718"/><use href="#m^" x="1535.9" y="670.7"/><use href="#m^" x="1600.6" y="624.1"/><use href="#m^" x="1665.2" y="580.2"/><use href="#m^" x="1729.9" y="533.6"/><use href="#m^" x="1794.6" y="486.4"/><use href="#m^" x="1859.3" y="438.5"/><use href="#m^" x="1924" y="393.9"/><use href="#m^" x="1988.6" y="349.9"/><use href="#m^" x="2053.3" y="301.4"/><use href="#m^" x="2118" y="256.1"/><use href="#m^" x="2182.7" y="210.2"/></g>
<polyline points="2182.7,89.7 2118,145 2053.3,199.5 1988.6,252.1 1924,310.7 1859.3,363.9 1794.6,419.8 1729.9,473.7 1665.2,531 1600.6,583.5 1535.9,638.8 1471.2,695.3 1406.5,754.6 1383.3,775.2 1376.8,780.2 1370.3,785.1 1363.9,790.5 1357.4,796.2 1350.9,802.1 1344.5,808.1 1338,813.9 1331.5,819.5 1325.1,825.5 1318.6,831.8 1312.1,838.5 1305.7,845.2 1301.8,848.9 1299.2,851.1 1296.6,853.7 1294,855.7 1291.4,857.7 1288.8,859.7 1286.3,863 1283.7,867 1281.1,872.4 1278.5,880.4 1275.9,893 1273.3,901.6 1270.7,907 1268.1,911 1265.6,914.3 1263,918.3 1260.4,921.6 1257.8,925.6 1255.2,928.9 1252.6,932 1248.7,936.8 1242.3,945 1235.8,951.7 1229.3,957.1 1222.9,962.4 1216.4,967.7 1209.9,973.2 1203.5,978.9 1197,984.3 1190.5,989.3 1184.1,994 1177.6,998.3 1171.1,1002.8 1147.9,1025.4 1083.2,1084 1018.5,1137.2 953.8,1193.1 889.2,1249 824.5,1295.6 759.8,1354.9 695.1,1414.1 630.5,1468.7 565.8,1524.6 501.1,1577.8 436.4,1634.4 371.8,1690.3" fill="none" stroke="#00ffff" stroke-opacity="1.00" stroke-width="4.0" stroke-linejoin="round"/>
<g fill="#00ffff"><use href="#mv" x="2182.7" y="89.7"/><use href="#mv" x="2118" y="145"/><use href="#mv" x="2053.3" y="199.5"/><use href="#mv" x="1988.6" y="252.1"/><use href="#mv" x="1924" y="310.7"/><use href="#mv" x="1859.3" y="363.9"/><use href="#mv" x="1794.6" y="419.8"/><use href="#mv" x="1729.9" y="473.7"/><use href="#mv" x="1665.2" y="531"/><use href="#mv" x="1600.6" y="583.5"/><use href="#mv" x="1535.9" y="638.8"/><use href="#mv" x="1471.2" y="695.3"/><use href="#mv" x="1406.5" y="754.6"/><use href="#mv" x="1383.3" y="775.2"/><use href="#mv" x="1376.8" y="780.2"/><use href="#mv" x="1370.3" y="785.1"/><use href="#mv" x="1363.9" y="790.5"/><use href="#mv" x="1357.4" y="796.2"/><use href="#mv" x="1350.9" y="802.1"/><use href="#mv" x="1344.5" y="808.1"/><use href="#mv" x="1338" y="813.9"/><use href="#mv" x="1331.5" y="819.5"/><use href="#mv" x="1325.1" y="825.5"/><use href="#mv" x="1318.6" y="831.8"/><use href="#mv" x="1312.1" y="838.5"/><use href="#mv" x="1305.7" y="845.2"/><use href="#mv" x="1301.8" y="848.9"/><use href="#mv" x="1299.2" y="851.1"/><use href="#mv" x="1296.6" y="853.7"/><use href="#mv" x="1294" y="855.7"/><use href="#mv" x="1291.4" y="857.7"/><use href="#mv" x="1288.8" y="859.7"/><use href="#mv" x="1286.3" y="863"/><use href="#mv" x="1283.7" y="867"/><use href="#mv" x="1281.1" y="872.4"/><use href="#mv" x="1278.5" y="880.4"/><use href="#mv" x="1275.9" y="893"/><use href="#mv" x="1273.3" y="901.6"/><use href="#mv" x="1270.7" y="907"/><use href="#mv" x="1268.1" y="911"/><use href="#mv" x="1265.6" y="914.3"/><use href="#mv" x="1263" y="918.3"/><use href="#mv" x="1260.4" y="921.6"/><use href="#mv" x="1257.8" y="925.6"/><use href="#mv" x="1255.2" y="928.9"/><use href="#mv" x="1252.6" y="932"/><use href="#mv" x="1248.7" y="936.8"/><use href="#mv" x="1242.3" y="945"/><use href="#mv" x="1235.8" y="951.7"/><use href="#mv" x="1229.3" y="957.1"/><use href="#mv" x="1222.9" y="962.4"/><use href="#mv" x="1216.4" y="967.7"/><use href="#mv" x="1209.9" y="973.2"/><use href="#mv" x="1203.5" y="978.9"/><use href="#mv" x="1197" y="984.3"/><use href="#mv" x="1190.5" y="989.3"/><use href="#mv" x="1184.1" y="994"/><use href="#mv" x="1177.6" y="998.3"/><use href="#mv" x="1171.1" y="1002.8"/><use href="#mv" x="1147.9" y="1025.4"/><use href="#mv" x="1083.2" y="1084"/><use href="#mv" x="1018.5" y="1137.2"/><use href="#mv" x="953.8" y="1193.1"/><use href="#mv" x="889.2" y="1249"/><use href="#mv" x="824.5" y="1295.6"/><use href="#mv" x="759.8" y="1354.9"/><use href="#mv" x="695.1" y="1414.1"/><use href="#mv" x="630.5" y="1468.7"/><use href="#mv" x="565.8" y="1524.6"/><use href="#mv" x="501.1" y="1577.8"/><use href="#mv" x="436.4" y="1634.4"/><use href="#mv" x="371.8" y="1690.3"/></g>
<polyline points="371.8,1690.3 436.4,1634.4 501.1,1577.8 565.8,1524.6 630.5,1468.7 695.1,1414.1 759.8,1354.9 824.5,1295.6 889.2,1249 953.8,1193.1 1018.5,1137.2 1083.2,1084 1147.9,1025.4 1171.1,1005.5 1177.6,1000.9 1184.1,996.6 1190.5,991.9 1197,986.9 1203.5,981.6 1209.9,975.8 1216.4,970 1222.9,963.9 1229.3,958 1235.8,952.1 1242.3,945 1248.7,936.8 1252.6,933.3 1255.2,931.6 1257.8,929.6 1260.4,927.6 1263,925.6 1265.6,922.9 1268.1,919.6 1270.7,914.3 1273.3,907 1275.9,895.7 1278.5,883 1281.1,876.4 1283.7,871 1286.3,867 1288.8,863.7 1291.4,861.1 1294,858.4 1296.6,855.7 1299.2,852.4 1301.8,849.7 1305.7,845.6 1312.1,838.5 1318.6,831.8 1325.1,825.4 1331.5,819.5 1338,813.9 1344.5,808.1 1350.9,802.1 1357.4,796.2 1363.9,790.5 1370.3,785.1 1376.8,780.2 1383.3,775.2 1406.5,754.6 1471.2,695.3 1535.9,638.8 1600.6,583.5 1665.2,531 1729.9,473.7 1794.6,419.8 1859.3,363.9 1924,310.7 1988.6,252.1 2053.3,199.5 2118,145 2182.7,89.7" fill="none" stroke="#00ffff" stroke-opacity="1.00" stroke-width="4.0" stroke-linejoin="round"/>
<g fill="#00ffff"><use href="#mv" x="371.8" y="1690.3"/><use href="#mv" x="436.4" y="1634.4"/><use href="#mv" x="501.1" y="1577.8"/><use href="#mv" x="565.8" y="1524.6"/><use href="#mv" x="630.5" y="1468.7"/><use href="#mv" x="695.1" y="1414.1"/><use href="#mv" x="759.8" y="1354.9"/><use href="#mv" x="824.5" y="1295.6"/><use href="#mv" x="889.2" y="1249"/><use href="#mv" x="953.8" y="1193.1"/><use href="#mv" x="1018.5" y="1137.2"/><use href="#mv" x="1083.2" y="1084"/><use href="#mv" x="1147.9" y="1025.4"/><use href="#mv" x="1171.1" y="1005.5"/><use href="#mv" x="1177.6" y="1000.9"/><use href="#mv" x="1184.1" y="996.6"/><use href="#mv" x="1190.5" y="991.9"/><use href="#mv" x="1197" y="986.9"/><use href="#mv" x="1203.5" y="981.6"/><use href="#mv" x="1209.9" y="975.8"/><use href="#mv" x="1216.4" y="970"/><use href="#mv" x="1222.9" y="963.9"/><use href="#mv" x="1229.3" y="958"/><use href="#mv" x="1235.8" y="952.1"/><use href="#mv" x="1242.3" y="945"/><use href="#mv" x="1248.7" y="936.8"/><use href="#mv" x="1252.6" y="933.3"/><use href="#mv" x="1255.2" y="931.6"/><use href="#mv" x="1257.8" y="929.6"/><use href="#mv" x="1260.4" y="927.6"/><use href="#mv" x="1263" y="925.6"/><use href="#mv" x="1265.6" y="922.9"/><use href="#mv" x="1268.1" y="919.6"/><use href="#mv" x="1270.7" y="914.3"/><use href="#mv" x="1273.3" y="907"/><use href="#mv" x="1275.9" y="895.7"/><use href="#mv" x="1278.5" y="883"/><use href="#mv" x="1281.1" y="876.4"/><use href="#mv" x="1283.7" y="871"/><use href="#mv" x="1286.3" y="867"/><use href="#mv" x="1288.8" y="863.7"/><use href="#mv" x="1291.4" y="861.1"/><use href="#mv" x="1294" y="858.4"/><use href="#mv" x="1296.6" y="855.7"/><use href="#mv" x="1299.2" y="852.4"/><use href="#mv" x="1301.8" y="849.7"/><use href="#mv" x="1305.7" y="845.6"/><use href="#mv" x="1312.1" y="838.5"/><use href="#mv" x="1318.6" y="831.8"/><use href="#mv" x="1325.1" y="825.4"/><use href="#mv" x="1331.5" y="819.5"/><use href="#mv" x="1338" y="813.9"/><use href="#mv" x="1344.5" y="808.1"/><use href="#mv" x="1350.9" y="802.1"/><use href="#mv" x="1357.4" y="796.2"/><use href="#mv" x="1363.9" y="790.5"/><use href="#mv" x="1370.3" y="785.1"/><use href="#mv" x="1376.8" y="780.2"/><use href="#mv" x="1383.3" y="775.2"/><use href="#mv" x="1406.5" y="754.6"/><use href="#mv" x="1471.2" y="695.3"/><use href="#mv" x="1535.9" y="638.8"/><use href="#mv" x="1600.6" y="583.5"/><use href="#mv" x="1665.2" y="531"/><use href="#mv" x="1729.9" y="473.7"/><use href="#mv" x="1794.6" y="419.8"/><use href="#mv" x="1859.3" y="363.9"/><use href="#mv" x="1924" y="310.7"/><use href="#mv" x="1988.6" y="252.1"/><use href="#mv" x="2053.3" y="199.5"/><use href="#mv" x="2118" y="145"/><use href="#mv" x="2182.7" y="89.7"/></g>
</g>
<path d="M371.8,1753.8v-17M371.8,27.3v17M436.4,1753.8v-17M436.4,27.3v17M501.1,1753.8v-30M501.1,27.3v30M565.8,1753.8v-17M565.8,27.3v17M630.5,1753.8v-17M630.5,27.3v17M695.1,1753.8v-17M695.1,27.3v17M759.8,1753.8v-30M759.8,27.3v30M824.5,1753.8v-17M824.5,27.3v17M889.2,1753.8v-17M889.2,27.3v17M953.8,1753.8v-17M953.8,27.3v17M1018.5,1753.8v-30M1018.5,27.3v30M1083.2,1753.8v-17M1083.2,27.3v17M1147.9,1753.8v-17M1147.9,27.3v17M1212.5,1753.8v-17M1212.5,27.3v17M1277.2,1753.8v-30M1277.2,27.3v30M1341.9,1753.8v-17M1341.9,27.3v17M1406.5,1753.8v-17M1406.5,27.3v17M1471.2,1753.8v-17M1471.2,27.3v17M1535.9,1753.8v-30M1535.9,27.3v30M1600.6,1753.8v-17M1600.6,27.3v17M1665.2,1753.8v-17M1665.2,27.3v17M1729.9,1753.8v-17M1729.9,27.3v17M1794.6,1753.8v-30M1794.6,27.3v30M1859.3,1753.8v-17M1859.3,27.3v17M1924,1753.8v-17M1924,27.3v17M1988.6,1753.8v-17M1988.6,27.3v17M2053.3,1753.8v-30M2053.3,27.3v30M2118,1753.8v-17M2118,27.3v17M2182.7,1753.8v-17M2182.7,27.3v17M307.2,1689.6h17M2247.8,1689.6h-17M307.2,1623h17M2247.8,1623h-17M307.2,1556.5h30M2247.8,1556.5h-30M307.2,1489.9h17M2247.8,1489.9h-17M307.2,1423.4h17M2247.8,1423.4h-17M307.2,1356.8h17M2247.8,1356.8h-17M307.2,1290.3h17M2247.8,1290.3h-17M307.2,1223.8h30M2247.8,1223.8h-30M307.2,1157.2h17M2247.8,1157.2h-17M307.2,1090.7h17M2247.8,1090.7h-17M307.2,1024.1h17M2247.8,1024.1h-17M307.2,957.5h17M2247.8,957.5h-17M307.2,891h30M2247.8,891h-30M307.2,824.5h17M2247.8,824.5h-17M307.2,757.9h17M2247.8,757.9h-17M307.2,691.4h17M2247.8,691.4h-17M307.2,624.8h17M2247.8,624.8h-17M307.2,558.2h30M2247.8,558.2h-30M307.2,491.7h17M2247.8,491.7h-17M307.2,425.1h17M2247.8,425.1h-17M307.2,358.6h17M2247.8,358.6h-17M307.2,292.1h17M2247.8,292.1h-17M307.2,225.5h30M2247.8,225.5h-30M307.2,159h17M2247.8,159h-17M307.2,92.4h17M2247.8,92.4h-17" stroke="#3a3a3a" stroke-width="4" fill="none"/>
<rect x="307.2" y="27.3" width="1940.6" height="1726.5" fill="none" stroke="#555" stroke-width="4.5"/>
<rect x="374.4" y="117.4" width="418.4" height="422.3" fill="#fff" stroke="#555" stroke-width="4.5"/>
<line x1="409.5" y1="174.5" x2="542.5" y2="174.5" stroke="#000000" stroke-opacity="0.56" stroke-width="4.5"/>
<use href="#mo" x="475.5" y="174.5" fill="#000000"/>
<text text-anchor="start" transform="translate(571.4 196.5) scale(1 0.95)">5 K</text>
<line x1="409.5" y1="252" x2="542.5" y2="252" stroke="#ff0000" stroke-opacity="0.60" stroke-width="4.5"/>
<use href="#ms" x="475.5" y="252" fill="#ff0000"/>
<text text-anchor="start" transform="translate(571.4 274) scale(1 0.95)">50 K</text>
<line x1="409.5" y1="328.8" x2="542.5" y2="328.8" stroke="#00ff30" stroke-opacity="0.95" stroke-width="4.5"/>
<use href="#mD" x="475.5" y="328.8" fill="#00ff00"/>
<text text-anchor="start" transform="translate(571.4 350.8) scale(1 0.95)">100 K</text>
<line x1="409.5" y1="405.6" x2="542.5" y2="405.6" stroke="#0000ff" stroke-opacity="0.52" stroke-width="4.5"/>
<use href="#m^" x="475.5" y="405.6" fill="#0000ff"/>
<text text-anchor="start" transform="translate(571.4 427.6) scale(1 0.95)">200 K</text>
<line x1="409.5" y1="483.1" x2="542.5" y2="483.1" stroke="#00ffff" stroke-opacity="1.00" stroke-width="4.5"/>
<use href="#mv" x="475.5" y="483.1" fill="#00ffff"/>
<text text-anchor="start" transform="translate(571.4 505.1) scale(1 0.95)">280 K</text>
<rect x="1565.8" y="812.4" width="636.6" height="740.4" fill="#fff"/>
<g clip-path="url(#ci)">
<polyline points="6344.9,-1360 6026.3,-1172.7 5707.7,-985.4 5389.1,-824.5 5070.5,-653 4751.9,-497.4 4433.3,-328.6 4114.7,-165 3796.1,3.8 3477.5,167.4 3158.9,312.5 2840.3,468.1 2521.7,655.4 2458,683 2426.1,697.7 2394.3,713 2362.4,728.9 2330.5,745.2 2298.7,761.9 2266.8,779 2235,796.4 2203.1,814 2171.2,831.9 2139.4,851.1 2107.5,872.8 2075.7,892.3 2043.8,916 2011.9,939.8 1992.8,949.5 1980.1,961.4 1967.3,978.6 1954.6,992.3 1941.8,1010.2 1929.1,1026 1916.4,1048.5 1903.6,1073.3 1890.9,1094.4 1878.1,1125 1865.4,1161.9 1852.6,1217.3 1839.9,1256.9 1827.2,1288.5 1814.4,1322.8 1801.7,1351.8 1788.9,1375.6 1776.2,1394 1757.1,1420.4 1725.2,1446.8 1693.3,1470.5 1661.5,1486.4 1629.6,1504.8 1597.8,1525.9 1565.9,1545.7 1534,1565.3 1502.2,1584.6 1470.3,1603.6 1438.5,1622.2 1406.6,1640.4 1374.7,1658.2 1342.9,1675.5 1311,1692.2 1247.3,1723.8 928.7,1855.7 610.1,2037.7 291.5,2198.6 -27.1,2356.9 -345.7,2523.1 -664.3,2697.2 -982.9,2866 -1301.5,3029.6 -1620.1,3209 -1938.7,3380.5 -2257.3,3549.3 -2575.9,3739.2" fill="none" stroke="#000000" stroke-opacity="0.42" stroke-width="4.0" stroke-linejoin="round"/>
<g fill="#000000"><use href="#mo" x="6344.9" y="-1360"/><use href="#mo" x="6026.3" y="-1172.7"/><use href="#mo" x="5707.7" y="-985.4"/><use href="#mo" x="5389.1" y="-824.5"/><use href="#mo" x="5070.5" y="-653"/><use href="#mo" x="4751.9" y="-497.4"/><use href="#mo" x="4433.3" y="-328.6"/><use href="#mo" x="4114.7" y="-165"/><use href="#mo" x="3796.1" y="3.8"/><use href="#mo" x="3477.5" y="167.4"/><use href="#mo" x="3158.9" y="312.5"/><use href="#mo" x="2840.3" y="468.1"/><use href="#mo" x="2521.7" y="655.4"/><use href="#mo" x="2458" y="683"/><use href="#mo" x="2426.1" y="697.7"/><use href="#mo" x="2394.3" y="713"/><use href="#mo" x="2362.4" y="728.9"/><use href="#mo" x="2330.5" y="745.2"/><use href="#mo" x="2298.7" y="761.9"/><use href="#mo" x="2266.8" y="779"/><use href="#mo" x="2235" y="796.4"/><use href="#mo" x="2203.1" y="814"/><use href="#mo" x="2171.2" y="831.9"/><use href="#mo" x="2139.4" y="851.1"/><use href="#mo" x="2107.5" y="872.8"/><use href="#mo" x="2075.7" y="892.3"/><use href="#mo" x="2043.8" y="916"/><use href="#mo" x="2011.9" y="939.8"/><use href="#mo" x="1992.8" y="949.5"/><use href="#mo" x="1980.1" y="961.4"/><use href="#mo" x="1967.3" y="978.6"/><use href="#mo" x="1954.6" y="992.3"/><use href="#mo" x="1941.8" y="1010.2"/><use href="#mo" x="1929.1" y="1026"/><use href="#mo" x="1916.4" y="1048.5"/><use href="#mo" x="1903.6" y="1073.3"/><use href="#mo" x="1890.9" y="1094.4"/><use href="#mo" x="1878.1" y="1125"/><use href="#mo" x="1865.4" y="1161.9"/><use href="#mo" x="1852.6" y="1217.3"/><use href="#mo" x="1839.9" y="1256.9"/><use href="#mo" x="1827.2" y="1288.5"/><use href="#mo" x="1814.4" y="1322.8"/><use href="#mo" x="1801.7" y="1351.8"/><use href="#mo" x="1788.9" y="1375.6"/><use href="#mo" x="1776.2" y="1394"/><use href="#mo" x="1757.1" y="1420.4"/><use href="#mo" x="1725.2" y="1446.8"/><use href="#mo" x="1693.3" y="1470.5"/><use href="#mo" x="1661.5" y="1486.4"/><use href="#mo" x="1629.6" y="1504.8"/><use href="#mo" x="1597.8" y="1525.9"/><use href="#mo" x="1565.9" y="1545.7"/><use href="#mo" x="1534" y="1565.3"/><use href="#mo" x="1502.2" y="1584.6"/><use href="#mo" x="1470.3" y="1603.6"/><use href="#mo" x="1438.5" y="1622.2"/><use href="#mo" x="1406.6" y="1640.4"/><use href="#mo" x="1374.7" y="1658.2"/><use href="#mo" x="1342.9" y="1675.5"/><use href="#mo" x="1311" y="1692.2"/><use href="#mo" x="1247.3" y="1723.8"/><use href="#mo" x="928.7" y="1855.7"/><use href="#mo" x="610.1" y="2037.7"/><use href="#mo" x="291.5" y="2198.6"/><use href="#mo" x="-27.1" y="2356.9"/><use href="#mo" x="-345.7" y="2523.1"/><use href="#mo" x="-664.3" y="2697.2"/><use href="#mo" x="-982.9" y="2866"/><use href="#mo" x="-1301.5" y="3029.6"/><use href="#mo" x="-1620.1" y="3209"/><use href="#mo" x="-1938.7" y="3380.5"/><use href="#mo" x="-2257.3" y="3549.3"/><use href="#mo" x="-2575.9" y="3739.2"/></g>
<polyline points="-2575.9,3739.2 -2257.3,3549.3 -1938.7,3380.5 -1620.1,3209 -1301.5,3029.6 -982.9,2866 -664.3,2697.2 -345.7,2523.1 -27.1,2356.9 291.5,2198.6 610.1,2037.7 928.7,1855.7 1247.3,1723.8 1311,1692.2 1342.9,1675.5 1374.7,1658.2 1406.6,1640.4 1438.5,1622.2 1470.3,1603.6 1502.2,1584.6 1534,1565.3 1565.9,1545.7 1597.8,1525.9 1629.6,1504.8 1661.5,1486.4 1693.3,1470.5 1725.2,1446.8 1757.1,1426.2 1776.2,1416.5 1788.9,1404.6 1801.7,1387.4 1814.4,1373.7 1827.2,1355.8 1839.9,1340 1852.6,1317.5 1865.4,1292.7 1878.1,1271.6 1890.9,1241 1903.6,1204.1 1916.4,1148.7 1929.1,1109.1 1941.8,1077.5 1954.6,1043.2 1967.3,1014.2 1980.1,990.4 1992.8,972 2011.9,945.6 2043.8,916 2075.7,892.3 2107.5,872.8 2139.4,851.1 2171.2,831.9 2203.1,814 2235,796.4 2266.8,779 2298.7,761.9 2330.5,745.2 2362.4,728.9 2394.3,713 2426.1,697.7 2458,683 2521.7,655.4 2840.3,468.1 3158.9,312.5 3477.5,167.4 3796.1,3.8 4114.7,-165 4433.3,-328.6 4751.9,-497.4 5070.5,-653 5389.1,-824.5 5707.7,-985.4 6026.3,-1172.7 6344.9,-1360" fill="none" stroke="#000000" stroke-opacity="0.42" stroke-width="4.0" stroke-linejoin="round"/>
<g fill="#000000"><use href="#mo" x="-2575.9" y="3739.2"/><use href="#mo" x="-2257.3" y="3549.3"/><use href="#mo" x="-1938.7" y="3380.5"/><use href="#mo" x="-1620.1" y="3209"/><use href="#mo" x="-1301.5" y="3029.6"/><use href="#mo" x="-982.9" y="2866"/><use href="#mo" x="-664.3" y="2697.2"/><use href="#mo" x="-345.7" y="2523.1"/><use href="#mo" x="-27.1" y="2356.9"/><use href="#mo" x="291.5" y="2198.6"/><use href="#mo" x="610.1" y="2037.7"/><use href="#mo" x="928.7" y="1855.7"/><use href="#mo" x="1247.3" y="1723.8"/><use href="#mo" x="1311" y="1692.2"/><use href="#mo" x="1342.9" y="1675.5"/><use href="#mo" x="1374.7" y="1658.2"/><use href="#mo" x="1406.6" y="1640.4"/><use href="#mo" x="1438.5" y="1622.2"/><use href="#mo" x="1470.3" y="1603.6"/><use href="#mo" x="1502.2" y="1584.6"/><use href="#mo" x="1534" y="1565.3"/><use href="#mo" x="1565.9" y="1545.7"/><use href="#mo" x="1597.8" y="1525.9"/><use href="#mo" x="1629.6" y="1504.8"/><use href="#mo" x="1661.5" y="1486.4"/><use href="#mo" x="1693.3" y="1470.5"/><use href="#mo" x="1725.2" y="1446.8"/><use href="#mo" x="1757.1" y="1426.2"/><use href="#mo" x="1776.2" y="1416.5"/><use href="#mo" x="1788.9" y="1404.6"/><use href="#mo" x="1801.7" y="1387.4"/><use href="#mo" x="1814.4" y="1373.7"/><use href="#mo" x="1827.2" y="1355.8"/><use href="#mo" x="1839.9" y="1340"/><use href="#mo" x="1852.6" y="1317.5"/><use href="#mo" x="1865.4" y="1292.7"/><use href="#mo" x="1878.1" y="1271.6"/><use href="#mo" x="1890.9" y="1241"/><use href="#mo" x="1903.6" y="1204.1"/><use href="#mo" x="1916.4" y="1148.7"/><use href="#mo" x="1929.1" y="1109.1"/><use href="#mo" x="1941.8" y="1077.5"/><use href="#mo" x="1954.6" y="1043.2"/><use href="#mo" x="1967.3" y="1014.2"/><use href="#mo" x="1980.1" y="990.4"/><use href="#mo" x="1992.8" y="972"/><use href="#mo" x="2011.9" y="945.6"/><use href="#mo" x="2043.8" y="916"/><use href="#mo" x="2075.7" y="892.3"/><use href="#mo" x="2107.5" y="872.8"/><use href="#mo" x="2139.4" y="851.1"/><use href="#mo" x="2171.2" y="831.9"/><use href="#mo" x="2203.1" y="814"/><use href="#mo" x="2235" y="796.4"/><use href="#mo" x="2266.8" y="779"/><use href="#mo" x="2298.7" y="761.9"/><use href="#mo" x="2330.5" y="745.2"/><use href="#mo" x="2362.4" y="728.9"/><use href="#mo" x="2394.3" y="713"/><use href="#mo" x="2426.1" y="697.7"/><use href="#mo" x="2458" y="683"/><use href="#mo" x="2521.7" y="655.4"/><use href="#mo" x="2840.3" y="468.1"/><use href="#mo" x="3158.9" y="312.5"/><use href="#mo" x="3477.5" y="167.4"/><use href="#mo" x="3796.1" y="3.8"/><use href="#mo" x="4114.7" y="-165"/><use href="#mo" x="4433.3" y="-328.6"/><use href="#mo" x="4751.9" y="-497.4"/><use href="#mo" x="5070.5" y="-653"/><use href="#mo" x="5389.1" y="-824.5"/><use href="#mo" x="5707.7" y="-985.4"/><use href="#mo" x="6026.3" y="-1172.7"/><use href="#mo" x="6344.9" y="-1360"/></g>
<polyline points="6344.9,-1212.3 6026.3,-1038.2 5707.7,-864.1 5389.1,-703.2 5070.5,-544.9 4751.9,-391.9 4433.3,-241.5 4114.7,-88.5 3796.1,72.4 3477.5,233.3 3158.9,402.2 2840.3,528.8 2521.7,676.5 2458,701.1 2426.1,714.7 2394.3,729 2362.4,744 2330.5,759.7 2298.7,775.8 2266.8,792.5 2235,809.5 2203.1,826.9 2171.2,844.5 2139.4,864.1 2107.5,883.6 2075.7,903.1 2043.8,924.7 2011.9,946.4 1992.8,956.1 1980.1,969.3 1967.3,985.1 1954.6,998.3 1941.8,1016.8 1929.1,1032.6 1916.4,1053.7 1903.6,1077.5 1890.9,1101.2 1878.1,1132.9 1865.4,1177.7 1852.6,1241 1839.9,1280.6 1827.2,1312.3 1814.4,1338.6 1801.7,1362.4 1788.9,1380.8 1776.2,1396.7 1757.1,1420.4 1725.2,1444.7 1693.3,1464.5 1661.5,1484.3 1629.6,1500.9 1597.8,1519.9 1565.9,1538.4 1534,1556.8 1502.2,1575.1 1470.3,1593.3 1438.5,1611.4 1406.6,1629.3 1374.7,1647 1342.9,1664.6 1311,1681.9 1247.3,1715.9 928.7,1837.2 610.1,2014 291.5,2167 -27.1,2330.5 -345.7,2473 -664.3,2633.9 -982.9,2789.5 -1301.5,2953.1 -1620.1,3124.6 -1938.7,3296 -2257.3,3470.1 -2575.9,3639" fill="none" stroke="#ff0000" stroke-opacity="0.55" stroke-width="4.0" stroke-linejoin="round"/>
<g fill="#ff0000"><use href="#ms" x="6344.9" y="-1212.3"/><use href="#ms" x="5707.7" y="-864.1"/><use href="#ms" x="4751.9" y="-391.9"/><use href="#ms" x="4114.7" y="-88.5"/><use href="#ms" x="3796.1" y="72.4"/><use href="#ms" x="3477.5" y="233.3"/><use href="#ms" x="3158.9" y="402.2"/><use href="#ms" x="2840.3" y="528.8"/><use href="#ms" x="2521.7" y="676.5"/><use href="#ms" x="2458" y="701.1"/><use href="#ms" x="2426.1" y="714.7"/><use href="#ms" x="2394.3" y="729"/><use href="#ms" x="2362.4" y="744"/><use href="#ms" x="2330.5" y="759.7"/><use href="#ms" x="2298.7" y="775.8"/><use href="#ms" x="2266.8" y="792.5"/><use href="#ms" x="2235" y="809.5"/><use href="#ms" x="2203.1" y="826.9"/><use href="#ms" x="2171.2" y="844.5"/><use href="#ms" x="2139.4" y="864.1"/><use href="#ms" x="2107.5" y="883.6"/><use href="#ms" x="2075.7" y="903.1"/><use href="#ms" x="2043.8" y="924.7"/><use href="#ms" x="2011.9" y="946.4"/><use href="#ms" x="1992.8" y="956.1"/><use href="#ms" x="1980.1" y="969.3"/><use href="#ms" x="1967.3" y="985.1"/><use href="#ms" x="1954.6" y="998.3"/><use href="#ms" x="1941.8" y="1016.8"/><use href="#ms" x="1929.1" y="1032.6"/><use href="#ms" x="1916.4" y="1053.7"/><use href="#ms" x="1903.6" y="1077.5"/><use href="#ms" x="1890.9" y="1101.2"/><use href="#ms" x="1878.1" y="1132.9"/><use href="#ms" x="1865.4" y="1177.7"/><use href="#ms" x="1852.6" y="1241"/><use href="#ms" x="1839.9" y="1280.6"/><use href="#ms" x="1827.2" y="1312.3"/><use href="#ms" x="1814.4" y="1338.6"/><use href="#ms" x="1801.7" y="1362.4"/><use href="#ms" x="1788.9" y="1380.8"/><use href="#ms" x="1776.2" y="1396.7"/><use href="#ms" x="1757.1" y="1420.4"/><use href="#ms" x="1725.2" y="1444.7"/><use href="#ms" x="1693.3" y="1464.5"/><use href="#ms" x="1661.5" y="1484.3"/><use href="#ms" x="1629.6" y="1500.9"/><use href="#ms" x="1597.8" y="1519.9"/><use href="#ms" x="1565.9" y="1538.4"/><use href="#ms" x="1534" y="1556.8"/><use href="#ms" x="1502.2" y="1575.1"/><use href="#ms" x="1470.3" y="1593.3"/><use href="#ms" x="1438.5" y="1611.4"/><use href="#ms" x="1406.6" y="1629.3"/><use href="#ms" x="1374.7" y="1647"/><use href="#ms" x="1342.9" y="1664.6"/><use href="#ms" x="1311" y="1681.9"/><use href="#ms" x="1247.3" y="1715.9"/><use href="#ms" x="928.7" y="1837.2"/><use href="#ms" x="610.1" y="2014"/><use href="#ms" x="291.5" y="2167"/><use href="#ms" x="-27.1" y="2330.5"/><use href="#ms" x="-345.7" y="2473"/><use href="#ms" x="-664.3" y="2633.9"/><use href="#ms" x="-982.9" y="2789.5"/><use href="#ms" x="-1301.5" y="2953.1"/><use href="#ms" x="-1620.1" y="3124.6"/><use href="#ms" x="-1938.7" y="3296"/><use href="#ms" x="-2257.3" y="3470.1"/><use href="#ms" x="-2575.9" y="3639"/></g>
<polyline points="-2575.9,3639 -2257.3,3470.1 -1938.7,3296 -1620.1,3124.6 -1301.5,2953.1 -982.9,2789.5 -664.3,2633.9 -345.7,2473 -27.1,2330.5 291.5,2167 610.1,2014 928.7,1837.2 1247.3,1715.9 1311,1681.9 1342.9,1664.6 1374.7,1647 1406.6,1629.3 1438.5,1611.4 1470.3,1593.3 1502.2,1575.1 1534,1556.8 1565.9,1538.4 1597.8,1519.9 1629.6,1500.9 1661.5,1484.3 1693.3,1464.5 1725.2,1444.7 1757.1,1419.6 1776.2,1409.9 1788.9,1396.7 1801.7,1380.8 1814.4,1367.7 1827.2,1349.2 1839.9,1333.4 1852.6,1312.3 1865.4,1288.5 1878.1,1264.8 1890.9,1233.1 1903.6,1188.3 1916.4,1125 1929.1,1085.4 1941.8,1053.7 1954.6,1027.4 1967.3,1003.6 1980.1,985.1 1992.8,969.3 2011.9,945.6 2043.8,924.7 2075.7,903.1 2107.5,883.6 2139.4,864.1 2171.2,844.5 2203.1,826.9 2235,809.5 2266.8,792.5 2298.7,775.8 2330.5,759.7 2362.4,744 2394.3,729 2426.1,714.7 2458,701.1 2521.7,676.5 2840.3,528.8 3158.9,402.2 3477.5,233.3 3796.1,72.4 4114.7,-88.5 4433.3,-241.5 4751.9,-391.9 5070.5,-544.9 5389.1,-703.2 5707.7,-864.1 6026.3,-1038.2 6344.9,-1212.3" fill="none" stroke="#ff0000" stroke-opacity="0.55" stroke-width="4.0" stroke-linejoin="round"/>
<g fill="#ff0000"><use href="#ms" x="-2575.9" y="3639"/><use href="#ms" x="-2257.3" y="3470.1"/><use href="#ms" x="-1938.7" y="3296"/><use href="#ms" x="-1620.1" y="3124.6"/><use href="#ms" x="-1301.5" y="2953.1"/><use href="#ms" x="-982.9" y="2789.5"/><use href="#ms" x="-664.3" y="2633.9"/><use href="#ms" x="-345.7" y="2473"/><use href="#ms" x="-27.1" y="2330.5"/><use href="#ms" x="291.5" y="2167"/><use href="#ms" x="610.1" y="2014"/><use href="#ms" x="928.7" y="1837.2"/><use href="#ms" x="1247.3" y="1715.9"/><use href="#ms" x="1311" y="1681.9"/><use href="#ms" x="1342.9" y="1664.6"/><use href="#ms" x="1374.7" y="1647"/><use href="#ms" x="1406.6" y="1629.3"/><use href="#ms" x="1438.5" y="1611.4"/><use href="#ms" x="1470.3" y="1593.3"/><use href="#ms" x="1502.2" y="1575.1"/><use href="#ms" x="1534" y="1556.8"/><use href="#ms" x="1565.9" y="1538.4"/><use href="#ms" x="1597.8" y="1519.9"/><use href="#ms" x="1629.6" y="1500.9"/><use href="#ms" x="1661.5" y="1484.3"/><use href="#ms" x="1693.3" y="1464.5"/><use href="#ms" x="1725.2" y="1444.7"/><use href="#ms" x="1757.1" y="1419.6"/><use href="#ms" x="1776.2" y="1409.9"/><use href="#ms" x="1788.9" y="1396.7"/><use href="#ms" x="1801.7" y="1380.8"/><use href="#ms" x="1814.4" y="1367.7"/><use href="#ms" x="1827.2" y="1349.2"/><use href="#ms" x="1839.9" y="1333.4"/><use href="#ms" x="1852.6" y="1312.3"/><use href="#ms" x="1865.4" y="1288.5"/><use href="#ms" x="1878.1" y="1264.8"/><use href="#ms" x="1890.9" y="1233.1"/><use href="#ms" x="1903.6" y="1188.3"/><use href="#ms" x="1916.4" y="1125"/><use href="#ms" x="1929.1" y="1085.4"/><use href="#ms" x="1941.8" y="1053.7"/><use href="#ms" x="1954.6" y="1027.4"/><use href="#ms" x="1967.3" y="1003.6"/><use href="#ms" x="1980.1" y="985.1"/><use href="#ms" x="1992.8" y="969.3"/><use href="#ms" x="2011.9" y="945.6"/><use href="#ms" x="2043.8" y="924.7"/><use href="#ms" x="2075.7" y="903.1"/><use href="#ms" x="2107.5" y="883.6"/><use href="#ms" x="2139.4" y="864.1"/><use href="#ms" x="2171.2" y="844.5"/><use href="#ms" x="2203.1" y="826.9"/><use href="#ms" x="2235" y="809.5"/><use href="#ms" x="2266.8" y="792.5"/><use href="#ms" x="2298.7" y="775.8"/><use href="#ms" x="2330.5" y="759.7"/><use href="#ms" x="2362.4" y="744"/><use href="#ms" x="2394.3" y="729"/><use href="#ms" x="2426.1" y="714.7"/><use href="#ms" x="2458" y="701.1"/><use href="#ms" x="2521.7" y="676.5"/><use href="#ms" x="2840.3" y="528.8"/><use href="#ms" x="3158.9" y="402.2"/><use href="#ms" x="3477.5" y="233.3"/><use href="#ms" x="3796.1" y="72.4"/><use href="#ms" x="4114.7" y="-88.5"/><use href="#ms" x="4751.9" y="-391.9"/><use href="#ms" x="5707.7" y="-864.1"/><use href="#ms" x="6344.9" y="-1212.3"/></g>
<polyline points="6344.9,-1207 6026.3,-1038.2 5707.7,-856.2 5389.1,-695.3 5070.5,-534.3 4751.9,-376.1 4433.3,-209.9 4114.7,-62.1 3796.1,88.2 3477.5,251.8 3158.9,402.2 2840.3,565.7 2521.7,713.4 2458,729.1 2426.1,739.4 2394.3,751 2362.4,763.9 2330.5,778 2298.7,792.9 2266.8,808.7 2235,825.1 2203.1,842 2171.2,859.3 2139.4,880.4 2107.5,901 2075.7,918.1 2043.8,937.7 2011.9,955.6 1992.8,974.6 1980.1,987.8 1967.3,1001 1954.6,1014.2 1941.8,1030 1929.1,1051.1 1916.4,1074.8 1903.6,1106.5 1890.9,1143.4 1878.1,1190.9 1865.4,1222.6 1852.6,1251.6 1839.9,1278 1827.2,1304.3 1814.4,1325.5 1801.7,1341.3 1788.9,1357.1 1776.2,1372.9 1757.1,1402 1725.2,1430.4 1693.3,1446.8 1661.5,1465.8 1629.6,1482.7 1597.8,1499.6 1565.9,1515.1 1534,1530.4 1502.2,1545.5 1470.3,1560.3 1438.5,1574.7 1406.6,1588.8 1374.7,1602.4 1342.9,1615.5 1311,1628 1247.3,1651.2 928.7,1813.5 610.1,1969.1 291.5,2114.2 -27.1,2275.1 -345.7,2420.2 -664.3,2581.1 -982.9,2721 -1301.5,2892.4 -1620.1,3058.6 -1938.7,3211.6 -2257.3,3391 -2575.9,3562.5" fill="none" stroke="#00ff30" stroke-opacity="0.85" stroke-width="4.0" stroke-linejoin="round"/>
<g fill="#00ff00"><use href="#mD" x="6344.9" y="-1207"/><use href="#mD" x="6026.3" y="-1038.2"/><use href="#mD" x="5707.7" y="-856.2"/><use href="#mD" x="5389.1" y="-695.3"/><use href="#mD" x="5070.5" y="-534.3"/><use href="#mD" x="4751.9" y="-376.1"/><use href="#mD" x="4433.3" y="-209.9"/><use href="#mD" x="4114.7" y="-62.1"/><use href="#mD" x="3796.1" y="88.2"/><use href="#mD" x="3477.5" y="251.8"/><use href="#mD" x="3158.9" y="402.2"/><use href="#mD" x="2840.3" y="565.7"/><use href="#mD" x="2521.7" y="713.4"/><use href="#mD" x="2458" y="729.1"/><use href="#mD" x="2426.1" y="739.4"/><use href="#mD" x="2394.3" y="751"/><use href="#mD" x="2362.4" y="763.9"/><use href="#mD" x="2330.5" y="778"/><use href="#mD" x="2298.7" y="792.9"/><use href="#mD" x="2266.8" y="808.7"/><use href="#mD" x="2235" y="825.1"/><use href="#mD" x="2203.1" y="842"/><use href="#mD" x="2171.2" y="859.3"/><use href="#mD" x="2139.4" y="880.4"/><use href="#mD" x="2107.5" y="901"/><use href="#mD" x="2075.7" y="918.1"/><use href="#mD" x="2043.8" y="937.7"/><use href="#mD" x="2011.9" y="955.6"/><use href="#mD" x="1992.8" y="974.6"/><use href="#mD" x="1980.1" y="987.8"/><use href="#mD" x="1967.3" y="1001"/><use href="#mD" x="1954.6" y="1014.2"/><use href="#mD" x="1941.8" y="1030"/><use href="#mD" x="1929.1" y="1051.1"/><use href="#mD" x="1916.4" y="1074.8"/><use href="#mD" x="1903.6" y="1106.5"/><use href="#mD" x="1890.9" y="1143.4"/><use href="#mD" x="1878.1" y="1190.9"/><use href="#mD" x="1865.4" y="1222.6"/><use href="#mD" x="1852.6" y="1251.6"/><use href="#mD" x="1839.9" y="1278"/><use href="#mD" x="1827.2" y="1304.3"/><use href="#mD" x="1814.4" y="1325.5"/><use href="#mD" x="1801.7" y="1341.3"/><use href="#mD" x="1788.9" y="1357.1"/><use href="#mD" x="1776.2" y="1372.9"/><use href="#mD" x="1757.1" y="1402"/><use href="#mD" x="1725.2" y="1430.4"/><use href="#mD" x="1693.3" y="1446.8"/><use href="#mD" x="1661.5" y="1465.8"/><use href="#mD" x="1629.6" y="1482.7"/><use href="#mD" x="1597.8" y="1499.6"/><use href="#mD" x="1565.9" y="1515.1"/><use href="#mD" x="1534" y="1530.4"/><use href="#mD" x="1502.2" y="1545.5"/><use href="#mD" x="1470.3" y="1560.3"/><use href="#mD" x="1438.5" y="1574.7"/><use href="#mD" x="1406.6" y="1588.8"/><use href="#mD" x="1374.7" y="1602.4"/><use href="#mD" x="1342.9" y="1615.5"/><use href="#mD" x="1311" y="1628"/><use href="#mD" x="1247.3" y="1651.2"/><use href="#mD" x="928.7" y="1813.5"/><use href="#mD" x="610.1" y="1969.1"/><use href="#mD" x="291.5" y="2114.2"/><use href="#mD" x="-27.1" y="2275.1"/><use href="#mD" x="-345.7" y="2420.2"/><use href="#mD" x="-664.3" y="2581.1"/><use href="#mD" x="-982.9" y="2721"/><use href="#mD" x="-1301.5" y="2892.4"/><use href="#mD" x="-1620.1" y="3058.6"/><use href="#mD" x="-1938.7" y="3211.6"/><use href="#mD" x="-2257.3" y="3391"/><use href="#mD" x="-2575.9" y="3562.5"/></g>
<polyline points="-2575.9,3562.5 -2257.3,3391 -1938.7,3211.6 -1620.1,3058.6 -1301.5,2892.4 -982.9,2721 -664.3,2581.1 -345.7,2420.2 -27.1,2275.1 291.5,2114.2 610.1,1969.1 928.7,1813.5 1247.3,1651.2 1311,1628 1342.9,1615.5 1374.7,1602.4 1406.6,1588.8 1438.5,1574.7 1470.3,1560.3 1502.2,1545.5 1534,1530.4 1565.9,1515.1 1597.8,1499.6 1629.6,1482.7 1661.5,1465.8 1693.3,1446.8 1725.2,1430.4 1757.1,1410.4 1776.2,1391.4 1788.9,1378.2 1801.7,1365 1814.4,1351.8 1827.2,1336 1839.9,1314.9 1852.6,1291.2 1865.4,1259.5 1878.1,1222.6 1890.9,1175.1 1903.6,1143.4 1916.4,1114.4 1929.1,1088 1941.8,1061.7 1954.6,1040.5 1967.3,1024.7 1980.1,1008.9 1992.8,993.1 2011.9,964 2043.8,937.7 2075.7,918.1 2107.5,901 2139.4,880.4 2171.2,859.3 2203.1,842 2235,825.1 2266.8,808.7 2298.7,792.9 2330.5,778 2362.4,763.9 2394.3,751 2426.1,739.4 2458,729.1 2521.7,713.4 2840.3,565.7 3158.9,402.2 3477.5,251.8 3796.1,88.2 4114.7,-62.1 4433.3,-209.9 4751.9,-376.1 5070.5,-534.3 5389.1,-695.3 5707.7,-856.2 6026.3,-1038.2 6344.9,-1207" fill="none" stroke="#00ff30" stroke-opacity="0.85" stroke-width="4.0" stroke-linejoin="round"/>
<g fill="#00ff00"><use href="#mD" x="-2575.9" y="3562.5"/><use href="#mD" x="-2257.3" y="3391"/><use href="#mD" x="-1938.7" y="3211.6"/><use href="#mD" x="-1620.1" y="3058.6"/><use href="#mD" x="-1301.5" y="2892.4"/><use href="#mD" x="-982.9" y="2721"/><use href="#mD" x="-664.3" y="2581.1"/><use href="#mD" x="-345.7" y="2420.2"/><use href="#mD" x="-27.1" y="2275.1"/><use href="#mD" x="291.5" y="2114.2"/><use href="#mD" x="610.1" y="1969.1"/><use href="#mD" x="928.7" y="1813.5"/><use href="#mD" x="1247.3" y="1651.2"/><use href="#mD" x="1311" y="1628"/><use href="#mD" x="1342.9" y="1615.5"/><use href="#mD" x="1374.7" y="1602.4"/><use href="#mD" x="1406.6" y="1588.8"/><use href="#mD" x="1438.5" y="1574.7"/><use href="#mD" x="1470.3" y="1560.3"/><use href="#mD" x="1502.2" y="1545.5"/><use href="#mD" x="1534" y="1530.4"/><use href="#mD" x="1565.9" y="1515.1"/><use href="#mD" x="1597.8" y="1499.6"/><use href="#mD" x="1629.6" y="1482.7"/><use href="#mD" x="1661.5" y="1465.8"/><use href="#mD" x="1693.3" y="1446.8"/><use href="#mD" x="1725.2" y="1430.4"/><use href="#mD" x="1757.1" y="1410.4"/><use href="#mD" x="1776.2" y="1391.4"/><use href="#mD" x="1788.9" y="1378.2"/><use href="#mD" x="1801.7" y="1365"/><use href="#mD" x="1814.4" y="1351.8"/><use href="#mD" x="1827.2" y="1336"/><use href="#mD" x="1839.9" y="1314.9"/><use href="#mD" x="1852.6" y="1291.2"/><use href="#mD" x="1865.4" y="1259.5"/><use href="#mD" x="1878.1" y="1222.6"/><use href="#mD" x="1890.9" y="1175.1"/><use href="#mD" x="1903.6" y="1143.4"/><use href="#mD" x="1916.4" y="1114.4"/><use href="#mD" x="1929.1" y="1088"/><use href="#mD" x="1941.8" y="1061.7"/><use href="#mD" x="1954.6" y="1040.5"/><use href="#mD" x="1967.3" y="1024.7"/><use href="#mD" x="1980.1" y="1008.9"/><use href="#mD" x="1992.8" y="993.1"/><use href="#mD" x="2011.9" y="964"/><use href="#mD" x="2043.8" y="937.7"/><use href="#mD" x="2075.7" y="918.1"/><use href="#mD" x="2107.5" y="901"/><use href="#mD" x="2139.4" y="880.4"/><use href="#mD" x="2171.2" y="859.3"/><use href="#mD" x="2203.1" y="842"/><use href="#mD" x="2235" y="825.1"/><use href="#mD" x="2266.8" y="808.7"/><use href="#mD" x="2298.7" y="792.9"/><use href="#mD" x="2330.5" y="778"/><use href="#mD" x="2362.4" y="763.9"/><use href="#mD" x="2394.3" y="751"/><use href="#mD" x="2426.1" y="739.4"/><use href="#mD" x="2458" y="729.1"/><use href="#mD" x="2521.7" y="713.4"/><use href="#mD" x="2840.3" y="565.7"/><use href="#mD" x="3158.9" y="402.2"/><use href="#mD" x="3477.5" y="251.8"/><use href="#mD" x="3796.1" y="88.2"/><use href="#mD" x="4114.7" y="-62.1"/><use href="#mD" x="4433.3" y="-209.9"/><use href="#mD" x="4751.9" y="-376.1"/><use href="#mD" x="5070.5" y="-534.3"/><use href="#mD" x="5389.1" y="-695.3"/><use href="#mD" x="5707.7" y="-856.2"/><use href="#mD" x="6026.3" y="-1038.2"/><use href="#mD" x="6344.9" y="-1207"/></g>
<polyline points="6344.9,-1515.7 6026.3,-1333.7 5707.7,-1154.3 5389.1,-961.7 5070.5,-787.6 4751.9,-610.8 4433.3,-420.9 4114.7,-233.6 3796.1,-48.9 3477.5,125.2 3158.9,309.8 2840.3,497.1 2521.7,697.6 2458,723.5 2426.1,737.9 2394.3,753.2 2362.4,769.2 2330.5,785.9 2298.7,803.2 2266.8,821.1 2235,847.3 2203.1,873.9 2171.2,892.8 2139.4,913.9 2107.5,923.7 2075.7,940.3 2043.8,961.3 2011.9,979.9 1992.8,991.7 1980.1,1003.6 1967.3,1019.4 1954.6,1030 1941.8,1045.8 1929.1,1061.7 1916.4,1082.8 1903.6,1111.8 1890.9,1148.7 1878.1,1196.2 1865.4,1225.2 1852.6,1251.6 1839.9,1275.3 1827.2,1299.1 1814.4,1320.2 1801.7,1336 1788.9,1349.2 1776.2,1362.4 1757.1,1380.8 1725.2,1405.6 1693.3,1428.3 1661.5,1450.2 1629.6,1467.9 1597.8,1491.6 1565.9,1511.5 1534,1530.9 1502.2,1549.8 1470.3,1568 1438.5,1585.4 1406.6,1601.7 1374.7,1616.9 1342.9,1630.8 1311,1643.3 1247.3,1663.1 928.7,1866.2 610.1,2058.8 291.5,2251.4 -27.1,2433.4 -345.7,2618.1 -664.3,2786.9 -982.9,2963.7 -1301.5,3150.9 -1620.1,3343.5 -1938.7,3520.3 -2257.3,3710.2 -2575.9,3900.1" fill="none" stroke="#0000ff" stroke-opacity="0.48" stroke-width="4.0" stroke-linejoin="round"/>
<g fill="#0000ff"><use href="#m^" x="6344.9" y="-1515.7"/><use href="#m^" x="6026.3" y="-1333.7"/><use href="#m^" x="5707.7" y="-1154.3"/><use href="#m^" x="5389.1" y="-961.7"/><use href="#m^" x="5070.5" y="-787.6"/><use href="#m^" x="4751.9" y="-610.8"/><use href="#m^" x="4433.3" y="-420.9"/><use href="#m^" x="4114.7" y="-233.6"/><use href="#m^" x="3796.1" y="-48.9"/><use href="#m^" x="3477.5" y="125.2"/><use href="#m^" x="3158.9" y="309.8"/><use href="#m^" x="2840.3" y="497.1"/><use href="#m^" x="2521.7" y="697.6"/><use href="#m^" x="2458" y="723.5"/><use href="#m^" x="2426.1" y="737.9"/><use href="#m^" x="2394.3" y="753.2"/><use href="#m^" x="2362.4" y="769.2"/><use href="#m^" x="2330.5" y="785.9"/><use href="#m^" x="2298.7" y="803.2"/><use href="#m^" x="2266.8" y="821.1"/><use href="#m^" x="2235" y="847.3"/><use href="#m^" x="2203.1" y="873.9"/><use href="#m^" x="2171.2" y="892.8"/><use href="#m^" x="2139.4" y="913.9"/><use href="#m^" x="2107.5" y="923.7"/><use href="#m^" x="2075.7" y="940.3"/><use href="#m^" x="2043.8" y="961.3"/><use href="#m^" x="2011.9" y="979.9"/><use href="#m^" x="1992.8" y="991.7"/><use href="#m^" x="1980.1" y="1003.6"/><use href="#m^" x="1967.3" y="1019.4"/><use href="#m^" x="1954.6" y="1030"/><use href="#m^" x="1941.8" y="1045.8"/><use href="#m^" x="1929.1" y="1061.7"/><use href="#m^" x="1916.4" y="1082.8"/><use href="#m^" x="1903.6" y="1111.8"/><use href="#m^" x="1890.9" y="1148.7"/><use href="#m^" x="1878.1" y="1196.2"/><use href="#m^" x="1865.4" y="1225.2"/><use href="#m^" x="1852.6" y="1251.6"/><use href="#m^" x="1839.9" y="1275.3"/><use href="#m^" x="1827.2" y="1299.1"/><use href="#m^" x="1814.4" y="1320.2"/><use href="#m^" x="1801.7" y="1336"/><use href="#m^" x="1788.9" y="1349.2"/><use href="#m^" x="1776.2" y="1362.4"/><use href="#m^" x="1757.1" y="1380.8"/><use href="#m^" x="1725.2" y="1405.6"/><use href="#m^" x="1693.3" y="1428.3"/><use href="#m^" x="1661.5" y="1450.2"/><use href="#m^" x="1629.6" y="1467.9"/><use href="#m^" x="1597.8" y="1491.6"/><use href="#m^" x="1565.9" y="1511.5"/><use href="#m^" x="1534" y="1530.9"/><use href="#m^" x="1502.2" y="1549.8"/><use href="#m^" x="1470.3" y="1568"/><use href="#m^" x="1438.5" y="1585.4"/><use href="#m^" x="1406.6" y="1601.7"/><use href="#m^" x="1374.7" y="1616.9"/><use href="#m^" x="1342.9" y="1630.8"/><use href="#m^" x="1311" y="1643.3"/><use href="#m^" x="1247.3" y="1663.1"/><use href="#m^" x="928.7" y="1866.2"/><use href="#m^" x="610.1" y="2058.8"/><use href="#m^" x="291.5" y="2251.4"/><use href="#m^" x="-27.1" y="2433.4"/><use href="#m^" x="-345.7" y="2618.1"/><use href="#m^" x="-664.3" y="2786.9"/><use href="#m^" x="-982.9" y="2963.7"/><use href="#m^" x="-1301.5" y="3150.9"/><use href="#m^" x="-1620.1" y="3343.5"/><use href="#m^" x="-1938.7" y="3520.3"/><use href="#m^" x="-2257.3" y="3710.2"/><use href="#m^" x="-2575.9" y="3900.1"/></g>
<polyline points="-2575.9,3900.1 -2257.3,3710.2 -1938.7,3520.3 -1620.1,3343.5 -1301.5,3150.9 -982.9,2963.7 -664.3,2786.9 -345.7,2618.1 -27.1,2433.4 291.5,2251.4 610.1,2058.8 928.7,1866.2 1247.3,1663.1 1311,1643.3 1342.9,1630.8 1374.7,1616.9 1406.6,1601.7 1438.5,1585.4 1470.3,1568 1502.2,1549.8 1534,1530.9 1565.9,1511.5 1597.8,1491.6 1629.6,1467.9 1661.5,1450.2 1693.3,1428.3 1725.2,1405.6 1757.1,1386.1 1776.2,1374.3 1788.9,1362.4 1801.7,1346.6 1814.4,1336 1827.2,1320.2 1839.9,1304.3 1852.6,1283.2 1865.4,1254.2 1878.1,1217.3 1890.9,1169.8 1903.6,1140.8 1916.4,1114.4 1929.1,1090.7 1941.8,1066.9 1954.6,1045.8 1967.3,1030 1980.1,1016.8 1992.8,1003.6 2011.9,985.1 2043.8,961.3 2075.7,940.3 2107.5,923.7 2139.4,913.9 2171.2,892.8 2203.1,873.9 2235,847.3 2266.8,821.1 2298.7,803.2 2330.5,785.9 2362.4,769.2 2394.3,753.2 2426.1,737.9 2458,723.5 2521.7,697.6 2840.3,497.1 3158.9,309.8 3477.5,125.2 3796.1,-48.9 4114.7,-233.6 4433.3,-420.9 4751.9,-610.8 5070.5,-787.6 5389.1,-961.7 5707.7,-1154.3 6026.3,-1333.7 6344.9,-1515.7" fill="none" stroke="#0000ff" stroke-opacity="0.48" stroke-width="4.0" stroke-linejoin="round"/>
<g fill="#0000ff"><use href="#m^" x="-2575.9" y="3900.1"/><use href="#m^" x="-2257.3" y="3710.2"/><use href="#m^" x="-1938.7" y="3520.3"/><use href="#m^" x="-1620.1" y="3343.5"/><use href="#m^" x="-1301.5" y="3150.9"/><use href="#m^" x="-982.9" y="2963.7"/><use href="#m^" x="-664.3" y="2786.9"/><use href="#m^" x="-345.7" y="2618.1"/><use href="#m^" x="-27.1" y="2433.4"/><use href="#m^" x="291.5" y="2251.4"/><use href="#m^" x="610.1" y="2058.8"/><use href="#m^" x="928.7" y="1866.2"/><use href="#m^" x="1247.3" y="1663.1"/><use href="#m^" x="1311" y="1643.3"/><use href="#m^" x="1342.9" y="1630.8"/><use href="#m^" x="1374.7" y="1616.9"/><use href="#m^" x="1406.6" y="1601.7"/><use href="#m^" x="1438.5" y="1585.4"/><use href="#m^" x="1470.3" y="1568"/><use href="#m^" x="1502.2" y="1549.8"/><use href="#m^" x="1534" y="1530.9"/><use href="#m^" x="1565.9" y="1511.5"/><use href="#m^" x="1597.8" y="1491.6"/><use href="#m^" x="1629.6" y="1467.9"/><use href="#m^" x="1661.5" y="1450.2"/><use href="#m^" x="1693.3" y="1428.3"/><use href="#m^" x="1725.2" y="1405.6"/><use href="#m^" x="1757.1" y="1386.1"/><use href="#m^" x="1776.2" y="1374.3"/><use href="#m^" x="1788.9" y="1362.4"/><use href="#m^" x="1801.7" y="1346.6"/><use href="#m^" x="1814.4" y="1336"/><use href="#m^" x="1827.2" y="1320.2"/><use href="#m^" x="1839.9" y="1304.3"/><use href="#m^" x="1852.6" y="1283.2"/><use href="#m^" x="1865.4" y="1254.2"/><use href="#m^" x="1878.1" y="1217.3"/><use href="#m^" x="1890.9" y="1169.8"/><use href="#m^" x="1903.6" y="1140.8"/><use href="#m^" x="1916.4" y="1114.4"/><use href="#m^" x="1929.1" y="1090.7"/><use href="#m^" x="1941.8" y="1066.9"/><use href="#m^" x="1954.6" y="1045.8"/><use href="#m^" x="1967.3" y="1030"/><use href="#m^" x="1980.1" y="1016.8"/><use href="#m^" x="1992.8" y="1003.6"/><use href="#m^" x="2011.9" y="985.1"/><use href="#m^" x="2043.8" y="961.3"/><use href="#m^" x="2075.7" y="940.3"/><use href="#m^" x="2107.5" y="923.7"/><use href="#m^" x="2139.4" y="913.9"/><use href="#m^" x="2171.2" y="892.8"/><use href="#m^" x="2203.1" y="873.9"/><use href="#m^" x="2235" y="847.3"/><use href="#m^" x="2266.8" y="821.1"/><use href="#m^" x="2298.7" y="803.2"/><use href="#m^" x="2330.5" y="785.9"/><use href="#m^" x="2362.4" y="769.2"/><use href="#m^" x="2394.3" y="753.2"/><use href="#m^" x="2426.1" y="737.9"/><use href="#m^" x="2458" y="723.5"/><use href="#m^" x="2521.7" y="697.6"/><use href="#m^" x="2840.3" y="497.1"/><use href="#m^" x="3158.9" y="309.8"/><use href="#m^" x="3477.5" y="125.2"/><use href="#m^" x="3796.1" y="-48.9"/><use href="#m^" x="4114.7" y="-233.6"/><use href="#m^" x="4433.3" y="-420.9"/><use href="#m^" x="4751.9" y="-610.8"/><use href="#m^" x="5070.5" y="-787.6"/><use href="#m^" x="5389.1" y="-961.7"/><use href="#m^" x="5707.7" y="-1154.3"/><use href="#m^" x="6026.3" y="-1333.7"/><use href="#m^" x="6344.9" y="-1515.7"/></g>
<polyline points="6344.9,-1993.2 6026.3,-1774.2 5707.7,-1557.9 5389.1,-1349.5 5070.5,-1117.3 4751.9,-906.3 4433.3,-684.7 4114.7,-471 3796.1,-244.2 3477.5,-35.8 3158.9,183.2 2840.3,407.4 2521.7,642.2 2458,684.8 2426.1,706.5 2394.3,728.5 2362.4,750.6 2330.5,773.1 2298.7,795.7 2266.8,818.4 2235,841.3 2203.1,864.4 2171.2,887.5 2139.4,911.3 2107.5,932.4 2075.7,958.8 2043.8,985.1 2011.9,1011.5 1992.8,1024.7 1980.1,1035.3 1967.3,1043.2 1954.6,1051.1 1941.8,1059 1929.1,1072.2 1916.4,1088 1903.6,1109.1 1890.9,1140.8 1878.1,1190.9 1865.4,1225.2 1852.6,1246.3 1839.9,1262.1 1827.2,1275.3 1814.4,1291.2 1801.7,1304.3 1788.9,1320.2 1776.2,1333.4 1757.1,1351.8 1725.2,1380.8 1693.3,1404.6 1661.5,1428.3 1629.6,1449.4 1597.8,1473.2 1565.9,1496.2 1534,1519.2 1502.2,1541.9 1470.3,1564.5 1438.5,1587 1406.6,1609.1 1374.7,1631.1 1342.9,1652.7 1311,1674.1 1247.3,1715.9 928.7,1948 610.1,2159.1 291.5,2380.7 -27.1,2602.2 -345.7,2786.9 -664.3,3021.7 -982.9,3256.5 -1301.5,3472.8 -1620.1,3694.4 -1938.7,3905.4 -2257.3,4129.6 -2575.9,4351.2" fill="none" stroke="#00ffff" stroke-opacity="1.00" stroke-width="4.0" stroke-linejoin="round"/>
<g fill="#00ffff"><use href="#mv" x="6344.9" y="-1993.2"/><use href="#mv" x="6026.3" y="-1774.2"/><use href="#mv" x="5707.7" y="-1557.9"/><use href="#mv" x="5389.1" y="-1349.5"/><use href="#mv" x="5070.5" y="-1117.3"/><use href="#mv" x="4751.9" y="-906.3"/><use href="#mv" x="4433.3" y="-684.7"/><use href="#mv" x="4114.7" y="-471"/><use href="#mv" x="3796.1" y="-244.2"/><use href="#mv" x="3477.5" y="-35.8"/><use href="#mv" x="3158.9" y="183.2"/><use href="#mv" x="2840.3" y="407.4"/><use href="#mv" x="2521.7" y="642.2"/><use href="#mv" x="2458" y="684.8"/><use href="#mv" x="2426.1" y="706.5"/><use href="#mv" x="2394.3" y="728.5"/><use href="#mv" x="2362.4" y="750.6"/><use href="#mv" x="2330.5" y="773.1"/><use href="#mv" x="2298.7" y="795.7"/><use href="#mv" x="2266.8" y="818.4"/><use href="#mv" x="2235" y="841.3"/><use href="#mv" x="2203.1" y="864.4"/><use href="#mv" x="2171.2" y="887.5"/><use href="#mv" x="2139.4" y="911.3"/><use href="#mv" x="2107.5" y="932.4"/><use href="#mv" x="2075.7" y="958.8"/><use href="#mv" x="2043.8" y="985.1"/><use href="#mv" x="2011.9" y="1011.5"/><use href="#mv" x="1992.8" y="1024.7"/><use href="#mv" x="1980.1" y="1035.3"/><use href="#mv" x="1967.3" y="1043.2"/><use href="#mv" x="1954.6" y="1051.1"/><use href="#mv" x="1941.8" y="1059"/><use href="#mv" x="1929.1" y="1072.2"/><use href="#mv" x="1916.4" y="1088"/><use href="#mv" x="1903.6" y="1109.1"/><use href="#mv" x="1890.9" y="1140.8"/><use href="#mv" x="1878.1" y="1190.9"/><use href="#mv" x="1865.4" y="1225.2"/><use href="#mv" x="1852.6" y="1246.3"/><use href="#mv" x="1839.9" y="1262.1"/><use href="#mv" x="1827.2" y="1275.3"/><use href="#mv" x="1814.4" y="1291.2"/><use href="#mv" x="1801.7" y="1304.3"/><use href="#mv" x="1788.9" y="1320.2"/><use href="#mv" x="1776.2" y="1333.4"/><use href="#mv" x="1757.1" y="1351.8"/><use href="#mv" x="1725.2" y="1380.8"/><use href="#mv" x="1693.3" y="1404.6"/><use href="#mv" x="1661.5" y="1428.3"/><use href="#mv" x="1629.6" y="1449.4"/><use href="#mv" x="1597.8" y="1473.2"/><use href="#mv" x="1565.9" y="1496.2"/><use href="#mv" x="1534" y="1519.2"/><use href="#mv" x="1502.2" y="1541.9"/><use href="#mv" x="1470.3" y="1564.5"/><use href="#mv" x="1438.5" y="1587"/><use href="#mv" x="1406.6" y="1609.1"/><use href="#mv" x="1374.7" y="1631.1"/><use href="#mv" x="1342.9" y="1652.7"/><use href="#mv" x="1311" y="1674.1"/><use href="#mv" x="1247.3" y="1715.9"/><use href="#mv" x="928.7" y="1948"/><use href="#mv" x="610.1" y="2159.1"/><use href="#mv" x="291.5" y="2380.7"/><use href="#mv" x="-27.1" y="2602.2"/><use href="#mv" x="-345.7" y="2786.9"/><use href="#mv" x="-664.3" y="3021.7"/><use href="#mv" x="-982.9" y="3256.5"/><use href="#mv" x="-1301.5" y="3472.8"/><use href="#mv" x="-1620.1" y="3694.4"/><use href="#mv" x="-1938.7" y="3905.4"/><use href="#mv" x="-2257.3" y="4129.6"/><use href="#mv" x="-2575.9" y="4351.2"/></g>
<polyline points="-2575.9,4351.2 -2257.3,4129.6 -1938.7,3905.4 -1620.1,3694.4 -1301.5,3472.8 -982.9,3256.5 -664.3,3021.7 -345.7,2786.9 -27.1,2602.2 291.5,2380.7 610.1,2159.1 928.7,1948 1247.3,1715.9 1311,1674.1 1342.9,1652.7 1374.7,1631.1 1406.6,1609.1 1438.5,1587 1470.3,1564.5 1502.2,1541.9 1534,1519.2 1565.9,1496.2 1597.8,1473.2 1629.6,1449.4 1661.5,1428.3 1693.3,1404.6 1725.2,1380.8 1757.1,1354.5 1776.2,1343.9 1788.9,1336 1801.7,1328.1 1814.4,1320.2 1827.2,1309.6 1839.9,1296.4 1852.6,1275.3 1865.4,1246.3 1878.1,1201.5 1890.9,1151.3 1903.6,1125 1916.4,1103.9 1929.1,1088 1941.8,1074.8 1954.6,1064.3 1967.3,1053.7 1980.1,1043.2 1992.8,1030 2011.9,1014.2 2043.8,985.1 2075.7,958.8 2107.5,932.4 2139.4,911.3 2171.2,887.5 2203.1,864.4 2235,841.3 2266.8,818.4 2298.7,795.7 2330.5,773.1 2362.4,750.6 2394.3,728.5 2426.1,706.5 2458,684.8 2521.7,642.2 2840.3,407.4 3158.9,183.2 3477.5,-35.8 3796.1,-244.2 4114.7,-471 4433.3,-684.7 4751.9,-906.3 5070.5,-1117.3 5389.1,-1349.5 5707.7,-1557.9 6026.3,-1774.2 6344.9,-1993.2" fill="none" stroke="#00ffff" stroke-opacity="1.00" stroke-width="4.0" stroke-linejoin="round"/>
<g fill="#00ffff"><use href="#mv" x="-2575.9" y="4351.2"/><use href="#mv" x="-2257.3" y="4129.6"/><use href="#mv" x="-1938.7" y="3905.4"/><use href="#mv" x="-1620.1" y="3694.4"/><use href="#mv" x="-1301.5" y="3472.8"/><use href="#mv" x="-982.9" y="3256.5"/><use href="#mv" x="-664.3" y="3021.7"/><use href="#mv" x="-345.7" y="2786.9"/><use href="#mv" x="-27.1" y="2602.2"/><use href="#mv" x="291.5" y="2380.7"/><use href="#mv" x="610.1" y="2159.1"/><use href="#mv" x="928.7" y="1948"/><use href="#mv" x="1247.3" y="1715.9"/><use href="#mv" x="1311" y="1674.1"/><use href="#mv" x="1342.9" y="1652.7"/><use href="#mv" x="1374.7" y="1631.1"/><use href="#mv" x="1406.6" y="1609.1"/><use href="#mv" x="1438.5" y="1587"/><use href="#mv" x="1470.3" y="1564.5"/><use href="#mv" x="1502.2" y="1541.9"/><use href="#mv" x="1534" y="1519.2"/><use href="#mv" x="1565.9" y="1496.2"/><use href="#mv" x="1597.8" y="1473.2"/><use href="#mv" x="1629.6" y="1449.4"/><use href="#mv" x="1661.5" y="1428.3"/><use href="#mv" x="1693.3" y="1404.6"/><use href="#mv" x="1725.2" y="1380.8"/><use href="#mv" x="1757.1" y="1354.5"/><use href="#mv" x="1776.2" y="1343.9"/><use href="#mv" x="1788.9" y="1336"/><use href="#mv" x="1801.7" y="1328.1"/><use href="#mv" x="1814.4" y="1320.2"/><use href="#mv" x="1827.2" y="1309.6"/><use href="#mv" x="1839.9" y="1296.4"/><use href="#mv" x="1852.6" y="1275.3"/><use href="#mv" x="1865.4" y="1246.3"/><use href="#mv" x="1878.1" y="1201.5"/><use href="#mv" x="1890.9" y="1151.3"/><use href="#mv" x="1903.6" y="1125"/><use href="#mv" x="1916.4" y="1103.9"/><use href="#mv" x="1929.1" y="1088"/><use href="#mv" x="1941.8" y="1074.8"/><use href="#mv" x="1954.6" y="1064.3"/><use href="#mv" x="1967.3" y="1053.7"/><use href="#mv" x="1980.1" y="1043.2"/><use href="#mv" x="1992.8" y="1030"/><use href="#mv" x="2011.9" y="1014.2"/><use href="#mv" x="2043.8" y="985.1"/><use href="#mv" x="2075.7" y="958.8"/><use href="#mv" x="2107.5" y="932.4"/><use href="#mv" x="2139.4" y="911.3"/><use href="#mv" x="2171.2" y="887.5"/><use href="#mv" x="2203.1" y="864.4"/><use href="#mv" x="2235" y="841.3"/><use href="#mv" x="2266.8" y="818.4"/><use href="#mv" x="2298.7" y="795.7"/><use href="#mv" x="2330.5" y="773.1"/><use href="#mv" x="2362.4" y="750.6"/><use href="#mv" x="2394.3" y="728.5"/><use href="#mv" x="2426.1" y="706.5"/><use href="#mv" x="2458" y="684.8"/><use href="#mv" x="2521.7" y="642.2"/><use href="#mv" x="2840.3" y="407.4"/><use href="#mv" x="3158.9" y="183.2"/><use href="#mv" x="3477.5" y="-35.8"/><use href="#mv" x="3796.1" y="-244.2"/><use href="#mv" x="4114.7" y="-471"/><use href="#mv" x="4433.3" y="-684.7"/><use href="#mv" x="4751.9" y="-906.3"/><use href="#mv" x="5070.5" y="-1117.3"/><use href="#mv" x="5389.1" y="-1349.5"/><use href="#mv" x="5707.7" y="-1557.9"/><use href="#mv" x="6026.3" y="-1774.2"/><use href="#mv" x="6344.9" y="-1993.2"/></g>
</g>
<path d="M1597.8,1552.8v-17M1597.8,812.4v17M1629.6,1552.8v-30M1629.6,812.4v30M1661.5,1552.8v-17M1661.5,812.4v17M1693.3,1552.8v-17M1693.3,812.4v17M1725.2,1552.8v-17M1725.2,812.4v17M1757.1,1552.8v-30M1757.1,812.4v30M1788.9,1552.8v-17M1788.9,812.4v17M1820.8,1552.8v-17M1820.8,812.4v17M1852.6,1552.8v-17M1852.6,812.4v17M1884.5,1552.8v-30M1884.5,812.4v30M1916.4,1552.8v-17M1916.4,812.4v17M1948.2,1552.8v-17M1948.2,812.4v17M1980.1,1552.8v-17M1980.1,812.4v17M2011.9,1552.8v-30M2011.9,812.4v30M2043.8,1552.8v-17M2043.8,812.4v17M2075.7,1552.8v-17M2075.7,812.4v17M2107.5,1552.8v-17M2107.5,812.4v17M2139.4,1552.8v-30M2139.4,812.4v30M2171.2,1552.8v-17M2171.2,812.4v17M1565.8,1525.9h17M2202.4,1525.9h-17M1565.8,1499.6h17M2202.4,1499.6h-17M1565.8,1473.2h17M2202.4,1473.2h-17M1565.8,1446.8h30M2202.4,1446.8h-30M1565.8,1420.4h17M2202.4,1420.4h-17M1565.8,1394h17M2202.4,1394h-17M1565.8,1367.7h17M2202.4,1367.7h-17M1565.8,1341.3h17M2202.4,1341.3h-17M1565.8,1314.9h30M2202.4,1314.9h-30M1565.8,1288.5h17M2202.4,1288.5h-17M1565.8,1262.1h17M2202.4,1262.1h-17M1565.8,1235.8h17M2202.4,1235.8h-17M1565.8,1209.4h17M2202.4,1209.4h-17M1565.8,1183h30M2202.4,1183h-30M1565.8,1156.6h17M2202.4,1156.6h-17M1565.8,1130.2h17M2202.4,1130.2h-17M1565.8,1103.9h17M2202.4,1103.9h-17M1565.8,1077.5h17M2202.4,1077.5h-17M1565.8,1051.1h30M2202.4,1051.1h-30M1565.8,1024.7h17M2202.4,1024.7h-17M1565.8,998.3h17M2202.4,998.3h-17M1565.8,972h17M2202.4,972h-17M1565.8,945.6h17M2202.4,945.6h-17M1565.8,919.2h30M2202.4,919.2h-30M1565.8,892.8h17M2202.4,892.8h-17M1565.8,866.4h17M2202.4,866.4h-17M1565.8,840.1h17M2202.4,840.1h-17" stroke="#3a3a3a" stroke-width="4" fill="none"/>
<rect x="1565.8" y="812.4" width="636.6" height="740.4" fill="none" stroke="#555" stroke-width="4.5"/>
<text text-anchor="middle" transform="translate(501.1 1832.1) scale(1 0.95)">−60</text>
<text text-anchor="middle" transform="translate(759.8 1832.1) scale(1 0.95)">−40</text>
<text text-anchor="middle" transform="translate(1018.5 1832.1) scale(1 0.95)">−20</text>
<text text-anchor="middle" transform="translate(1277.2 1832.1) scale(1 0.95)">0</text>
<text text-anchor="middle" transform="translate(1535.9 1832.1) scale(1 0.95)">20</text>
<text text-anchor="middle" transform="translate(1794.6 1832.1) scale(1 0.95)">40</text>
<text text-anchor="middle" transform="translate(2053.3 1832.1) scale(1 0.95)">60</text>
<text text-anchor="end" transform="translate(288.5 246.1) scale(1 0.95)">0.1</text>
<text text-anchor="end" transform="translate(288.5 578.9) scale(1 0.95)">0.05</text>
<text text-anchor="end" transform="translate(288.5 911.6) scale(1 0.95)">0</text>
<text text-anchor="end" transform="translate(288.5 1244.3) scale(1 0.95)">−0.05</text>
<text text-anchor="end" transform="translate(288.5 1577.1) scale(1 0.95)">−0.1</text>
<text text-anchor="start" font-weight="bold" stroke="#fff" stroke-width="1.8" transform="translate(1154 1916.2) scale(1 1.0)">H [kOe]</text>
<text text-anchor="start" font-weight="bold" stroke="#fff" stroke-width="1.8" transform="translate(70.2 1074) rotate(-90) scale(1.0 1)">M [emu/g]</text>
<text text-anchor="middle" transform="translate(1629.6 1630.5) scale(1 0.95)">−4</text>
<text text-anchor="middle" transform="translate(1757.1 1630.5) scale(1 0.95)">−2</text>
<text text-anchor="middle" transform="translate(1884.5 1630.5) scale(1 0.95)">0</text>
<text text-anchor="middle" transform="translate(2011.9 1630.5) scale(1 0.95)">2</text>
<text text-anchor="middle" transform="translate(2139.4 1630.5) scale(1 0.95)">4</text>
<text text-anchor="end" transform="translate(1547 939.6) scale(1 0.95)">0.01</text>
<text text-anchor="end" transform="translate(1547 1071.5) scale(1 0.95)">0.005</text>
<text text-anchor="end" transform="translate(1547 1203.4) scale(1 0.95)">0</text>
<text text-anchor="end" transform="translate(1547 1335.3) scale(1 0.95)">−0.005</text>
<text text-anchor="end" transform="translate(1547 1467.2) scale(1 0.95)">−0.01</text>
<text text-anchor="start" font-weight="bold" stroke="#fff" stroke-width="1.8" transform="translate(1750.9 1715.9) scale(1 1.0)">H [kOe]</text>
<text text-anchor="start" font-weight="bold" stroke="#fff" stroke-width="1.8" transform="translate(1289.6 1358.8) rotate(-90) scale(1.0 1)">M [emu/g]</text>
</svg>
</body></html>
